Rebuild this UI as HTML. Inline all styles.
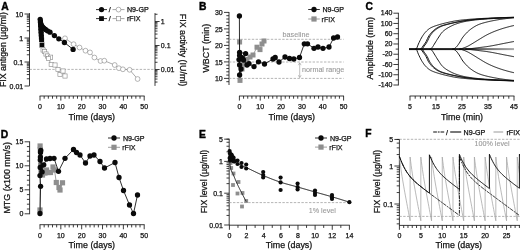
<!DOCTYPE html>
<html><head><meta charset="utf-8"><title>Figure</title>
<style>html,body{margin:0;padding:0;background:#fff;overflow:hidden}svg{display:block;filter:blur(0.4px)}text{font-family:"Liberation Sans",Arial,sans-serif}</style></head>
<body>
<svg width="520" height="250" viewBox="0 0 520 250" font-family="'Liberation Sans', Arial, sans-serif">
<rect width="520" height="250" fill="#fff"/>
<text x="1.3" y="10" font-size="10.3" text-anchor="start" fill="#000" font-weight="bold" stroke="#000" stroke-width="0.4" >A</text>
<line x1="29.5" y1="13.1" x2="29.5" y2="85.9" stroke="#1a1a1a" stroke-width="0.85" />
<line x1="29.5" y1="86" x2="24.5" y2="86" stroke="#1a1a1a" stroke-width="0.85" />
<line x1="29.5" y1="78.78" x2="26.8" y2="78.78" stroke="#1a1a1a" stroke-width="0.85" />
<line x1="29.5" y1="74.55" x2="26.8" y2="74.55" stroke="#1a1a1a" stroke-width="0.85" />
<line x1="29.5" y1="71.55" x2="26.8" y2="71.55" stroke="#1a1a1a" stroke-width="0.85" />
<line x1="29.5" y1="69.22" x2="26.8" y2="69.22" stroke="#1a1a1a" stroke-width="0.85" />
<line x1="29.5" y1="67.32" x2="26.8" y2="67.32" stroke="#1a1a1a" stroke-width="0.85" />
<line x1="29.5" y1="65.72" x2="26.8" y2="65.72" stroke="#1a1a1a" stroke-width="0.85" />
<line x1="29.5" y1="64.33" x2="26.8" y2="64.33" stroke="#1a1a1a" stroke-width="0.85" />
<line x1="29.5" y1="63.1" x2="26.8" y2="63.1" stroke="#1a1a1a" stroke-width="0.85" />
<line x1="29.5" y1="62" x2="24.5" y2="62" stroke="#1a1a1a" stroke-width="0.85" />
<line x1="29.5" y1="54.78" x2="26.8" y2="54.78" stroke="#1a1a1a" stroke-width="0.85" />
<line x1="29.5" y1="50.55" x2="26.8" y2="50.55" stroke="#1a1a1a" stroke-width="0.85" />
<line x1="29.5" y1="47.55" x2="26.8" y2="47.55" stroke="#1a1a1a" stroke-width="0.85" />
<line x1="29.5" y1="45.22" x2="26.8" y2="45.22" stroke="#1a1a1a" stroke-width="0.85" />
<line x1="29.5" y1="43.32" x2="26.8" y2="43.32" stroke="#1a1a1a" stroke-width="0.85" />
<line x1="29.5" y1="41.72" x2="26.8" y2="41.72" stroke="#1a1a1a" stroke-width="0.85" />
<line x1="29.5" y1="40.33" x2="26.8" y2="40.33" stroke="#1a1a1a" stroke-width="0.85" />
<line x1="29.5" y1="39.1" x2="26.8" y2="39.1" stroke="#1a1a1a" stroke-width="0.85" />
<line x1="29.5" y1="38" x2="24.5" y2="38" stroke="#1a1a1a" stroke-width="0.85" />
<line x1="29.5" y1="30.78" x2="26.8" y2="30.78" stroke="#1a1a1a" stroke-width="0.85" />
<line x1="29.5" y1="26.55" x2="26.8" y2="26.55" stroke="#1a1a1a" stroke-width="0.85" />
<line x1="29.5" y1="23.55" x2="26.8" y2="23.55" stroke="#1a1a1a" stroke-width="0.85" />
<line x1="29.5" y1="21.22" x2="26.8" y2="21.22" stroke="#1a1a1a" stroke-width="0.85" />
<line x1="29.5" y1="19.32" x2="26.8" y2="19.32" stroke="#1a1a1a" stroke-width="0.85" />
<line x1="29.5" y1="17.72" x2="26.8" y2="17.72" stroke="#1a1a1a" stroke-width="0.85" />
<line x1="29.5" y1="16.33" x2="26.8" y2="16.33" stroke="#1a1a1a" stroke-width="0.85" />
<line x1="29.5" y1="15.1" x2="26.8" y2="15.1" stroke="#1a1a1a" stroke-width="0.85" />
<line x1="29.5" y1="14" x2="24.5" y2="14" stroke="#1a1a1a" stroke-width="0.85" />
<text x="23.2" y="16.5" font-size="7" text-anchor="end" fill="#111" stroke="#111" stroke-width="0.25" >10</text>
<text x="23.2" y="40.5" font-size="7" text-anchor="end" fill="#111" stroke="#111" stroke-width="0.25" >1</text>
<text x="23.2" y="64.5" font-size="7" text-anchor="end" fill="#111" stroke="#111" stroke-width="0.25" >0.1</text>
<text x="23.2" y="88.5" font-size="7" text-anchor="end" fill="#111" stroke="#111" stroke-width="0.25" >0.01</text>
<text x="6.5" y="49.6" font-size="8.8" text-anchor="middle" fill="#111" stroke="#111" stroke-width="0.25" transform="rotate(-90 6.5 49.6)" >FIX antigen (µg/ml)</text>
<line x1="39.6" y1="96" x2="144.6" y2="96" stroke="#1a1a1a" stroke-width="0.85" />
<line x1="40" y1="96" x2="40" y2="100.6" stroke="#1a1a1a" stroke-width="0.85" />
<text x="40" y="109.4" font-size="7" text-anchor="middle" fill="#111" stroke="#111" stroke-width="0.25" >0</text>
<line x1="44.17" y1="96" x2="44.17" y2="98.7" stroke="#1a1a1a" stroke-width="0.85" />
<line x1="48.34" y1="96" x2="48.34" y2="98.7" stroke="#1a1a1a" stroke-width="0.85" />
<line x1="52.5" y1="96" x2="52.5" y2="98.7" stroke="#1a1a1a" stroke-width="0.85" />
<line x1="56.67" y1="96" x2="56.67" y2="98.7" stroke="#1a1a1a" stroke-width="0.85" />
<line x1="60.84" y1="96" x2="60.84" y2="100.6" stroke="#1a1a1a" stroke-width="0.85" />
<text x="60.84" y="109.4" font-size="7" text-anchor="middle" fill="#111" stroke="#111" stroke-width="0.25" >10</text>
<line x1="65.01" y1="96" x2="65.01" y2="98.7" stroke="#1a1a1a" stroke-width="0.85" />
<line x1="69.18" y1="96" x2="69.18" y2="98.7" stroke="#1a1a1a" stroke-width="0.85" />
<line x1="73.34" y1="96" x2="73.34" y2="98.7" stroke="#1a1a1a" stroke-width="0.85" />
<line x1="77.51" y1="96" x2="77.51" y2="98.7" stroke="#1a1a1a" stroke-width="0.85" />
<line x1="81.68" y1="96" x2="81.68" y2="100.6" stroke="#1a1a1a" stroke-width="0.85" />
<text x="81.68" y="109.4" font-size="7" text-anchor="middle" fill="#111" stroke="#111" stroke-width="0.25" >20</text>
<line x1="85.85" y1="96" x2="85.85" y2="98.7" stroke="#1a1a1a" stroke-width="0.85" />
<line x1="90.02" y1="96" x2="90.02" y2="98.7" stroke="#1a1a1a" stroke-width="0.85" />
<line x1="94.18" y1="96" x2="94.18" y2="98.7" stroke="#1a1a1a" stroke-width="0.85" />
<line x1="98.35" y1="96" x2="98.35" y2="98.7" stroke="#1a1a1a" stroke-width="0.85" />
<line x1="102.52" y1="96" x2="102.52" y2="100.6" stroke="#1a1a1a" stroke-width="0.85" />
<text x="102.52" y="109.4" font-size="7" text-anchor="middle" fill="#111" stroke="#111" stroke-width="0.25" >30</text>
<line x1="106.69" y1="96" x2="106.69" y2="98.7" stroke="#1a1a1a" stroke-width="0.85" />
<line x1="110.86" y1="96" x2="110.86" y2="98.7" stroke="#1a1a1a" stroke-width="0.85" />
<line x1="115.02" y1="96" x2="115.02" y2="98.7" stroke="#1a1a1a" stroke-width="0.85" />
<line x1="119.19" y1="96" x2="119.19" y2="98.7" stroke="#1a1a1a" stroke-width="0.85" />
<line x1="123.36" y1="96" x2="123.36" y2="100.6" stroke="#1a1a1a" stroke-width="0.85" />
<text x="123.36" y="109.4" font-size="7" text-anchor="middle" fill="#111" stroke="#111" stroke-width="0.25" >40</text>
<line x1="127.53" y1="96" x2="127.53" y2="98.7" stroke="#1a1a1a" stroke-width="0.85" />
<line x1="131.7" y1="96" x2="131.7" y2="98.7" stroke="#1a1a1a" stroke-width="0.85" />
<line x1="135.86" y1="96" x2="135.86" y2="98.7" stroke="#1a1a1a" stroke-width="0.85" />
<line x1="140.03" y1="96" x2="140.03" y2="98.7" stroke="#1a1a1a" stroke-width="0.85" />
<line x1="144.2" y1="96" x2="144.2" y2="100.6" stroke="#1a1a1a" stroke-width="0.85" />
<text x="144.2" y="109.4" font-size="7" text-anchor="middle" fill="#111" stroke="#111" stroke-width="0.25" >50</text>
<text x="91.8" y="119.6" font-size="8.9" text-anchor="middle" fill="#111" stroke="#111" stroke-width="0.25" >Time (days)</text>
<line x1="155" y1="13.1" x2="155" y2="85.9" stroke="#1a1a1a" stroke-width="0.85" />
<line x1="155" y1="82.05" x2="157.5" y2="82.05" stroke="#1a1a1a" stroke-width="0.85" />
<line x1="155" y1="79.05" x2="157.5" y2="79.05" stroke="#1a1a1a" stroke-width="0.85" />
<line x1="155" y1="76.72" x2="157.5" y2="76.72" stroke="#1a1a1a" stroke-width="0.85" />
<line x1="155" y1="74.82" x2="157.5" y2="74.82" stroke="#1a1a1a" stroke-width="0.85" />
<line x1="155" y1="73.22" x2="157.5" y2="73.22" stroke="#1a1a1a" stroke-width="0.85" />
<line x1="155" y1="71.83" x2="157.5" y2="71.83" stroke="#1a1a1a" stroke-width="0.85" />
<line x1="155" y1="70.6" x2="157.5" y2="70.6" stroke="#1a1a1a" stroke-width="0.85" />
<line x1="155" y1="69.5" x2="159.6" y2="69.5" stroke="#1a1a1a" stroke-width="0.85" />
<line x1="155" y1="62.28" x2="157.5" y2="62.28" stroke="#1a1a1a" stroke-width="0.85" />
<line x1="155" y1="58.05" x2="157.5" y2="58.05" stroke="#1a1a1a" stroke-width="0.85" />
<line x1="155" y1="55.05" x2="157.5" y2="55.05" stroke="#1a1a1a" stroke-width="0.85" />
<line x1="155" y1="52.72" x2="157.5" y2="52.72" stroke="#1a1a1a" stroke-width="0.85" />
<line x1="155" y1="50.82" x2="157.5" y2="50.82" stroke="#1a1a1a" stroke-width="0.85" />
<line x1="155" y1="49.22" x2="157.5" y2="49.22" stroke="#1a1a1a" stroke-width="0.85" />
<line x1="155" y1="47.83" x2="157.5" y2="47.83" stroke="#1a1a1a" stroke-width="0.85" />
<line x1="155" y1="46.6" x2="157.5" y2="46.6" stroke="#1a1a1a" stroke-width="0.85" />
<line x1="155" y1="45.5" x2="159.6" y2="45.5" stroke="#1a1a1a" stroke-width="0.85" />
<line x1="155" y1="38.28" x2="157.5" y2="38.28" stroke="#1a1a1a" stroke-width="0.85" />
<line x1="155" y1="34.05" x2="157.5" y2="34.05" stroke="#1a1a1a" stroke-width="0.85" />
<line x1="155" y1="31.05" x2="157.5" y2="31.05" stroke="#1a1a1a" stroke-width="0.85" />
<line x1="155" y1="28.72" x2="157.5" y2="28.72" stroke="#1a1a1a" stroke-width="0.85" />
<line x1="155" y1="26.82" x2="157.5" y2="26.82" stroke="#1a1a1a" stroke-width="0.85" />
<line x1="155" y1="25.22" x2="157.5" y2="25.22" stroke="#1a1a1a" stroke-width="0.85" />
<line x1="155" y1="23.83" x2="157.5" y2="23.83" stroke="#1a1a1a" stroke-width="0.85" />
<line x1="155" y1="22.6" x2="157.5" y2="22.6" stroke="#1a1a1a" stroke-width="0.85" />
<line x1="155" y1="21.5" x2="159.6" y2="21.5" stroke="#1a1a1a" stroke-width="0.85" />
<line x1="155" y1="14.28" x2="157.5" y2="14.28" stroke="#1a1a1a" stroke-width="0.85" />
<text x="160.8" y="23.6" font-size="7" text-anchor="start" fill="#111" stroke="#111" stroke-width="0.25" >1</text>
<text x="160.8" y="47.6" font-size="7" text-anchor="start" fill="#111" stroke="#111" stroke-width="0.25" >0.1</text>
<text x="160.8" y="71.6" font-size="7" text-anchor="start" fill="#111" stroke="#111" stroke-width="0.25" >0.01</text>
<text x="180.3" y="50" font-size="8.9" text-anchor="middle" fill="#111" stroke="#111" stroke-width="0.25" transform="rotate(90 180.3 50)" >FIX activity (IU/ml)</text>
<line x1="29.5" y1="69.4" x2="155" y2="69.4" stroke="#9c9c9c" stroke-width="0.75" stroke-dasharray="2.4 1.4"/>
<line x1="96" y1="9.6" x2="107" y2="9.6" stroke="#0a0a0a" stroke-width="0.85" />
<line x1="112.5" y1="9.6" x2="124.5" y2="9.6" stroke="#858585" stroke-width="0.7" />
<circle cx="101.5" cy="9.6" r="2.65" fill="#0a0a0a"/>
<circle cx="118.5" cy="9.6" r="2.4" fill="#fff" stroke="#858585" stroke-width="0.6"/>
<text x="109.8" y="12.2" font-size="7.1" text-anchor="middle" fill="#111" stroke="#111" stroke-width="0.25" >/</text>
<text x="127" y="12.2" font-size="7.1" text-anchor="start" fill="#111" stroke="#111" stroke-width="0.25" >N9-GP</text>
<line x1="96" y1="18.6" x2="107" y2="18.6" stroke="#0a0a0a" stroke-width="0.85" />
<line x1="112.5" y1="18.6" x2="124.5" y2="18.6" stroke="#858585" stroke-width="0.7" />
<rect x="99.1" y="16.2" width="4.8" height="4.8" fill="#0a0a0a"/>
<rect x="116.3" y="16.4" width="4.4" height="4.4" fill="#fff" stroke="#858585" stroke-width="0.6"/>
<text x="109.8" y="21.2" font-size="7.1" text-anchor="middle" fill="#111" stroke="#111" stroke-width="0.25" >/</text>
<text x="127" y="21.2" font-size="7.1" text-anchor="start" fill="#111" stroke="#111" stroke-width="0.25" >rFIX</text>
<polyline points="65,38.3 73.6,44.2 79.5,47.5 85.5,50.7 90,52.4 94.4,57.5 100.5,61 104.3,60.7 114.7,65 118.9,68.2 122.9,69.3 129.6,69.8 137.6,79" fill="none" stroke="#858585" stroke-width="0.7" stroke-linejoin="round" />
<circle cx="65" cy="38.3" r="2.4" fill="#fff" stroke="#858585" stroke-width="0.6"/>
<circle cx="73.6" cy="44.2" r="2.4" fill="#fff" stroke="#858585" stroke-width="0.6"/>
<circle cx="79.5" cy="47.5" r="2.4" fill="#fff" stroke="#858585" stroke-width="0.6"/>
<circle cx="85.5" cy="50.7" r="2.4" fill="#fff" stroke="#858585" stroke-width="0.6"/>
<circle cx="90" cy="52.4" r="2.4" fill="#fff" stroke="#858585" stroke-width="0.6"/>
<circle cx="94.4" cy="57.5" r="2.4" fill="#fff" stroke="#858585" stroke-width="0.6"/>
<circle cx="100.5" cy="61" r="2.4" fill="#fff" stroke="#858585" stroke-width="0.6"/>
<circle cx="104.3" cy="60.7" r="2.4" fill="#fff" stroke="#858585" stroke-width="0.6"/>
<circle cx="114.7" cy="65" r="2.4" fill="#fff" stroke="#858585" stroke-width="0.6"/>
<circle cx="118.9" cy="68.2" r="2.4" fill="#fff" stroke="#858585" stroke-width="0.6"/>
<circle cx="122.9" cy="69.3" r="2.4" fill="#fff" stroke="#858585" stroke-width="0.6"/>
<circle cx="129.6" cy="69.8" r="2.4" fill="#fff" stroke="#858585" stroke-width="0.6"/>
<circle cx="137.6" cy="79" r="2.4" fill="#fff" stroke="#858585" stroke-width="0.6"/>
<polyline points="43.1,50 44.6,51.5 46,54 47.5,56 50.6,57.2 48.5,58.5 51.2,64.4 55,65 58,69.4 60,74.4 63,71 65,76" fill="none" stroke="#858585" stroke-width="0.7" stroke-linejoin="round" />
<rect x="41" y="47.9" width="4.2" height="4.2" fill="#fff" stroke="#858585" stroke-width="0.6"/>
<rect x="42.5" y="49.4" width="4.2" height="4.2" fill="#fff" stroke="#858585" stroke-width="0.6"/>
<rect x="43.9" y="51.9" width="4.2" height="4.2" fill="#fff" stroke="#858585" stroke-width="0.6"/>
<rect x="45.4" y="53.9" width="4.2" height="4.2" fill="#fff" stroke="#858585" stroke-width="0.6"/>
<rect x="48.5" y="55.1" width="4.2" height="4.2" fill="#fff" stroke="#858585" stroke-width="0.6"/>
<rect x="46.4" y="56.4" width="4.2" height="4.2" fill="#fff" stroke="#858585" stroke-width="0.6"/>
<rect x="49.1" y="62.3" width="4.2" height="4.2" fill="#fff" stroke="#858585" stroke-width="0.6"/>
<rect x="52.9" y="62.9" width="4.2" height="4.2" fill="#fff" stroke="#858585" stroke-width="0.6"/>
<rect x="55.9" y="67.3" width="4.2" height="4.2" fill="#fff" stroke="#858585" stroke-width="0.6"/>
<rect x="57.9" y="72.3" width="4.2" height="4.2" fill="#fff" stroke="#858585" stroke-width="0.6"/>
<rect x="60.9" y="68.9" width="4.2" height="4.2" fill="#fff" stroke="#858585" stroke-width="0.6"/>
<rect x="62.9" y="73.9" width="4.2" height="4.2" fill="#fff" stroke="#858585" stroke-width="0.6"/>
<rect x="38" y="20" width="5" height="5" fill="#0a0a0a"/>
<rect x="38.1" y="22.5" width="5" height="5" fill="#0a0a0a"/>
<rect x="38.3" y="25.5" width="5" height="5" fill="#0a0a0a"/>
<rect x="38.5" y="28.5" width="5" height="5" fill="#0a0a0a"/>
<rect x="38.7" y="31.5" width="5" height="5" fill="#0a0a0a"/>
<rect x="38.9" y="34.5" width="5" height="5" fill="#0a0a0a"/>
<rect x="39.1" y="37.5" width="5" height="5" fill="#0a0a0a"/>
<rect x="39.2" y="42.3" width="5.4" height="5.4" fill="#0a0a0a" stroke="#fff" stroke-width="0.5"/>
<polyline points="40.2,19.3 40.4,22 40.8,24 41.5,25.5 42.5,27 43.8,28.2 45.5,29.5 47.5,30.8 50,32.2 54.4,35.6 58.8,38.8 64.4,42.5 73.1,49.4" fill="none" stroke="#0a0a0a" stroke-width="0.85" stroke-linejoin="round" />
<circle cx="40.2" cy="19.3" r="2.65" fill="#0a0a0a"/>
<circle cx="40.4" cy="22" r="2.65" fill="#0a0a0a"/>
<circle cx="40.8" cy="24" r="2.65" fill="#0a0a0a"/>
<circle cx="41.5" cy="25.5" r="2.65" fill="#0a0a0a"/>
<circle cx="42.5" cy="27" r="2.65" fill="#0a0a0a"/>
<circle cx="43.8" cy="28.2" r="2.65" fill="#0a0a0a"/>
<circle cx="45.5" cy="29.5" r="2.65" fill="#0a0a0a"/>
<circle cx="47.5" cy="30.8" r="2.65" fill="#0a0a0a"/>
<circle cx="50" cy="32.2" r="2.65" fill="#0a0a0a"/>
<circle cx="54.4" cy="35.6" r="2.65" fill="#0a0a0a"/>
<circle cx="58.8" cy="38.8" r="2.65" fill="#0a0a0a"/>
<circle cx="64.4" cy="42.5" r="2.65" fill="#0a0a0a"/>
<circle cx="73.1" cy="49.4" r="2.65" fill="#0a0a0a"/>
<text x="199" y="9.5" font-size="10.3" text-anchor="start" fill="#000" font-weight="bold" stroke="#000" stroke-width="0.4" >B</text>
<line x1="229" y1="12" x2="229" y2="85" stroke="#1a1a1a" stroke-width="0.85" />
<line x1="229" y1="81.7" x2="226.3" y2="81.7" stroke="#1a1a1a" stroke-width="0.85" />
<line x1="229" y1="78.4" x2="224" y2="78.4" stroke="#1a1a1a" stroke-width="0.85" />
<text x="222.7" y="81.4" font-size="7" text-anchor="end" fill="#111" stroke="#111" stroke-width="0.25" >10</text>
<line x1="229" y1="75.1" x2="226.3" y2="75.1" stroke="#1a1a1a" stroke-width="0.85" />
<line x1="229" y1="71.8" x2="226.3" y2="71.8" stroke="#1a1a1a" stroke-width="0.85" />
<line x1="229" y1="68.5" x2="226.3" y2="68.5" stroke="#1a1a1a" stroke-width="0.85" />
<line x1="229" y1="65.2" x2="226.3" y2="65.2" stroke="#1a1a1a" stroke-width="0.85" />
<line x1="229" y1="61.9" x2="224" y2="61.9" stroke="#1a1a1a" stroke-width="0.85" />
<text x="222.7" y="64.9" font-size="7" text-anchor="end" fill="#111" stroke="#111" stroke-width="0.25" >15</text>
<line x1="229" y1="58.6" x2="226.3" y2="58.6" stroke="#1a1a1a" stroke-width="0.85" />
<line x1="229" y1="55.3" x2="226.3" y2="55.3" stroke="#1a1a1a" stroke-width="0.85" />
<line x1="229" y1="52" x2="226.3" y2="52" stroke="#1a1a1a" stroke-width="0.85" />
<line x1="229" y1="48.7" x2="226.3" y2="48.7" stroke="#1a1a1a" stroke-width="0.85" />
<line x1="229" y1="45.4" x2="224" y2="45.4" stroke="#1a1a1a" stroke-width="0.85" />
<text x="222.7" y="48.4" font-size="7" text-anchor="end" fill="#111" stroke="#111" stroke-width="0.25" >20</text>
<line x1="229" y1="42.1" x2="226.3" y2="42.1" stroke="#1a1a1a" stroke-width="0.85" />
<line x1="229" y1="38.8" x2="226.3" y2="38.8" stroke="#1a1a1a" stroke-width="0.85" />
<line x1="229" y1="35.5" x2="226.3" y2="35.5" stroke="#1a1a1a" stroke-width="0.85" />
<line x1="229" y1="32.2" x2="226.3" y2="32.2" stroke="#1a1a1a" stroke-width="0.85" />
<line x1="229" y1="28.9" x2="224" y2="28.9" stroke="#1a1a1a" stroke-width="0.85" />
<text x="222.7" y="31.9" font-size="7" text-anchor="end" fill="#111" stroke="#111" stroke-width="0.25" >25</text>
<line x1="229" y1="25.6" x2="226.3" y2="25.6" stroke="#1a1a1a" stroke-width="0.85" />
<line x1="229" y1="22.3" x2="226.3" y2="22.3" stroke="#1a1a1a" stroke-width="0.85" />
<line x1="229" y1="19" x2="226.3" y2="19" stroke="#1a1a1a" stroke-width="0.85" />
<line x1="229" y1="15.7" x2="226.3" y2="15.7" stroke="#1a1a1a" stroke-width="0.85" />
<line x1="229" y1="12.4" x2="224" y2="12.4" stroke="#1a1a1a" stroke-width="0.85" />
<text x="222.7" y="15.4" font-size="7" text-anchor="end" fill="#111" stroke="#111" stroke-width="0.25" >30</text>
<text x="209.2" y="48.2" font-size="8.9" text-anchor="middle" fill="#111" stroke="#111" stroke-width="0.25" transform="rotate(-90 209.2 48.2)" >WBCT (min)</text>
<line x1="239" y1="96" x2="344" y2="96" stroke="#1a1a1a" stroke-width="0.85" />
<line x1="239.4" y1="96" x2="239.4" y2="100.6" stroke="#1a1a1a" stroke-width="0.85" />
<text x="239.4" y="109.4" font-size="7" text-anchor="middle" fill="#111" stroke="#111" stroke-width="0.25" >0</text>
<line x1="243.57" y1="96" x2="243.57" y2="98.7" stroke="#1a1a1a" stroke-width="0.85" />
<line x1="247.74" y1="96" x2="247.74" y2="98.7" stroke="#1a1a1a" stroke-width="0.85" />
<line x1="251.9" y1="96" x2="251.9" y2="98.7" stroke="#1a1a1a" stroke-width="0.85" />
<line x1="256.07" y1="96" x2="256.07" y2="98.7" stroke="#1a1a1a" stroke-width="0.85" />
<line x1="260.24" y1="96" x2="260.24" y2="100.6" stroke="#1a1a1a" stroke-width="0.85" />
<text x="260.24" y="109.4" font-size="7" text-anchor="middle" fill="#111" stroke="#111" stroke-width="0.25" >10</text>
<line x1="264.41" y1="96" x2="264.41" y2="98.7" stroke="#1a1a1a" stroke-width="0.85" />
<line x1="268.58" y1="96" x2="268.58" y2="98.7" stroke="#1a1a1a" stroke-width="0.85" />
<line x1="272.74" y1="96" x2="272.74" y2="98.7" stroke="#1a1a1a" stroke-width="0.85" />
<line x1="276.91" y1="96" x2="276.91" y2="98.7" stroke="#1a1a1a" stroke-width="0.85" />
<line x1="281.08" y1="96" x2="281.08" y2="100.6" stroke="#1a1a1a" stroke-width="0.85" />
<text x="281.08" y="109.4" font-size="7" text-anchor="middle" fill="#111" stroke="#111" stroke-width="0.25" >20</text>
<line x1="285.25" y1="96" x2="285.25" y2="98.7" stroke="#1a1a1a" stroke-width="0.85" />
<line x1="289.42" y1="96" x2="289.42" y2="98.7" stroke="#1a1a1a" stroke-width="0.85" />
<line x1="293.58" y1="96" x2="293.58" y2="98.7" stroke="#1a1a1a" stroke-width="0.85" />
<line x1="297.75" y1="96" x2="297.75" y2="98.7" stroke="#1a1a1a" stroke-width="0.85" />
<line x1="301.92" y1="96" x2="301.92" y2="100.6" stroke="#1a1a1a" stroke-width="0.85" />
<text x="301.92" y="109.4" font-size="7" text-anchor="middle" fill="#111" stroke="#111" stroke-width="0.25" >30</text>
<line x1="306.09" y1="96" x2="306.09" y2="98.7" stroke="#1a1a1a" stroke-width="0.85" />
<line x1="310.26" y1="96" x2="310.26" y2="98.7" stroke="#1a1a1a" stroke-width="0.85" />
<line x1="314.42" y1="96" x2="314.42" y2="98.7" stroke="#1a1a1a" stroke-width="0.85" />
<line x1="318.59" y1="96" x2="318.59" y2="98.7" stroke="#1a1a1a" stroke-width="0.85" />
<line x1="322.76" y1="96" x2="322.76" y2="100.6" stroke="#1a1a1a" stroke-width="0.85" />
<text x="322.76" y="109.4" font-size="7" text-anchor="middle" fill="#111" stroke="#111" stroke-width="0.25" >40</text>
<line x1="326.93" y1="96" x2="326.93" y2="98.7" stroke="#1a1a1a" stroke-width="0.85" />
<line x1="331.1" y1="96" x2="331.1" y2="98.7" stroke="#1a1a1a" stroke-width="0.85" />
<line x1="335.26" y1="96" x2="335.26" y2="98.7" stroke="#1a1a1a" stroke-width="0.85" />
<line x1="339.43" y1="96" x2="339.43" y2="98.7" stroke="#1a1a1a" stroke-width="0.85" />
<line x1="343.6" y1="96" x2="343.6" y2="100.6" stroke="#1a1a1a" stroke-width="0.85" />
<text x="343.6" y="109.4" font-size="7" text-anchor="middle" fill="#111" stroke="#111" stroke-width="0.25" >50</text>
<text x="291.8" y="119.6" font-size="8.9" text-anchor="middle" fill="#111" stroke="#111" stroke-width="0.25" >Time (days)</text>
<line x1="229" y1="39.3" x2="343.6" y2="39.3" stroke="#9c9c9c" stroke-width="0.75" stroke-dasharray="2.4 1.4"/>
<line x1="229" y1="62" x2="343.6" y2="62" stroke="#9c9c9c" stroke-width="0.75" stroke-dasharray="2.4 1.4"/>
<line x1="229" y1="78.4" x2="343.6" y2="78.4" stroke="#9c9c9c" stroke-width="0.75" stroke-dasharray="2.4 1.4"/>
<text x="296" y="37" font-size="7.2" text-anchor="middle" fill="#999" stroke="#999" stroke-width="0.1" >baseline</text>
<text x="302" y="72.2" font-size="7.2" text-anchor="start" fill="#999" stroke="#999" stroke-width="0.1" >normal range</text>
<line x1="299.7" y1="63" x2="299.7" y2="77.4" stroke="#999" stroke-width="0.6" />
<path d="M298.3 65.2 L299.7 62.8 L301.1 65.2 M298.3 75.2 L299.7 77.6 L301.1 75.2" fill="none" stroke="#999" stroke-width="0.6"/>
<line x1="308.2" y1="9.5" x2="319.8" y2="9.5" stroke="#0a0a0a" stroke-width="0.85" />
<circle cx="314" cy="9.5" r="2.65" fill="#0a0a0a"/>
<text x="322.4" y="12.1" font-size="7.1" text-anchor="start" fill="#111" stroke="#111" stroke-width="0.25" >N9-GP</text>
<line x1="308.2" y1="19" x2="319.8" y2="19" stroke="#8e8e8e" stroke-width="0.85" />
<rect x="311.4" y="16.4" width="5.2" height="5.2" fill="#8e8e8e"/>
<text x="321.6" y="21.6" font-size="7.1" text-anchor="start" fill="#222" stroke="#222" stroke-width="0.25" >rFIX</text>
<polyline points="239.6,42 239.8,80" fill="none" stroke="#8e8e8e" stroke-width="0.85" stroke-linejoin="round" />
<polyline points="240,80.4 242,69 244,64 247,59.5 250,57 253,55 257,47.2 260,49.6 262,44 264,41" fill="none" stroke="#8e8e8e" stroke-width="0.85" stroke-linejoin="round" />
<rect x="237.1" y="39.5" width="5" height="5" fill="#8e8e8e"/>
<rect x="237.5" y="77.9" width="5" height="5" fill="#8e8e8e"/>
<rect x="239.5" y="66.5" width="5" height="5" fill="#8e8e8e"/>
<rect x="241.5" y="61.5" width="5" height="5" fill="#8e8e8e"/>
<rect x="244.5" y="57" width="5" height="5" fill="#8e8e8e"/>
<rect x="247.5" y="54.5" width="5" height="5" fill="#8e8e8e"/>
<rect x="250.5" y="52.5" width="5" height="5" fill="#8e8e8e"/>
<rect x="254.5" y="44.7" width="5" height="5" fill="#8e8e8e"/>
<rect x="257.5" y="47.1" width="5" height="5" fill="#8e8e8e"/>
<rect x="259.5" y="41.5" width="5" height="5" fill="#8e8e8e"/>
<rect x="261.5" y="38.5" width="5" height="5" fill="#8e8e8e"/>
<polyline points="239.4,16 239.6,75" fill="none" stroke="#0a0a0a" stroke-width="0.85" stroke-linejoin="round" />
<polyline points="239.6,75 241,69 239.6,65 239,59.6 242,57.6 239.6,55.6 239.6,52.4 245.6,53.6 243.5,60 247,65 249,63.6 254,66.6 258.5,61.8 264.5,64 273,59 275.2,57.5 279,62 285,57 289.5,58.5 293.8,59 299.5,57.5 304.3,43.8 307.5,43.8 314,48.3 318,47 323,48.3 329,47 333.6,38 337.5,37" fill="none" stroke="#0a0a0a" stroke-width="0.85" stroke-linejoin="round" />
<circle cx="239.4" cy="16" r="2.65" fill="#0a0a0a"/>
<circle cx="239.6" cy="75" r="2.65" fill="#0a0a0a"/>
<circle cx="241" cy="69" r="2.65" fill="#0a0a0a"/>
<circle cx="239.6" cy="65" r="2.65" fill="#0a0a0a"/>
<circle cx="239" cy="59.6" r="2.65" fill="#0a0a0a"/>
<circle cx="242" cy="57.6" r="2.65" fill="#0a0a0a"/>
<circle cx="239.6" cy="55.6" r="2.65" fill="#0a0a0a"/>
<circle cx="239.6" cy="52.4" r="2.65" fill="#0a0a0a"/>
<circle cx="245.6" cy="53.6" r="2.65" fill="#0a0a0a"/>
<circle cx="243.5" cy="60" r="2.65" fill="#0a0a0a"/>
<circle cx="247" cy="65" r="2.65" fill="#0a0a0a"/>
<circle cx="249" cy="63.6" r="2.65" fill="#0a0a0a"/>
<circle cx="254" cy="66.6" r="2.65" fill="#0a0a0a"/>
<circle cx="258.5" cy="61.8" r="2.65" fill="#0a0a0a"/>
<circle cx="264.5" cy="64" r="2.65" fill="#0a0a0a"/>
<circle cx="273" cy="59" r="2.65" fill="#0a0a0a"/>
<circle cx="275.2" cy="57.5" r="2.65" fill="#0a0a0a"/>
<circle cx="279" cy="62" r="2.65" fill="#0a0a0a"/>
<circle cx="285" cy="57" r="2.65" fill="#0a0a0a"/>
<circle cx="289.5" cy="58.5" r="2.65" fill="#0a0a0a"/>
<circle cx="293.8" cy="59" r="2.65" fill="#0a0a0a"/>
<circle cx="299.5" cy="57.5" r="2.65" fill="#0a0a0a"/>
<circle cx="304.3" cy="43.8" r="2.65" fill="#0a0a0a"/>
<circle cx="307.5" cy="43.8" r="2.65" fill="#0a0a0a"/>
<circle cx="314" cy="48.3" r="2.65" fill="#0a0a0a"/>
<circle cx="318" cy="47" r="2.65" fill="#0a0a0a"/>
<circle cx="323" cy="48.3" r="2.65" fill="#0a0a0a"/>
<circle cx="329" cy="47" r="2.65" fill="#0a0a0a"/>
<circle cx="333.6" cy="38" r="2.65" fill="#0a0a0a"/>
<circle cx="337.5" cy="37" r="2.65" fill="#0a0a0a"/>
<text x="365.5" y="9.5" font-size="10.3" text-anchor="start" fill="#000" font-weight="bold" stroke="#000" stroke-width="0.4" >C</text>
<line x1="398.4" y1="12.79" x2="398.4" y2="85.41" stroke="#1a1a1a" stroke-width="0.85" />
<line x1="398.4" y1="85.01" x2="393.4" y2="85.01" stroke="#1a1a1a" stroke-width="0.85" />
<text x="392.5" y="87.21" font-size="7" text-anchor="end" fill="#111" stroke="#111" stroke-width="0.25" >-140</text>
<line x1="398.4" y1="79.88" x2="395.7" y2="79.88" stroke="#1a1a1a" stroke-width="0.85" />
<line x1="398.4" y1="74.75" x2="393.4" y2="74.75" stroke="#1a1a1a" stroke-width="0.85" />
<text x="392.5" y="76.95" font-size="7" text-anchor="end" fill="#111" stroke="#111" stroke-width="0.25" >-100</text>
<line x1="398.4" y1="69.62" x2="395.7" y2="69.62" stroke="#1a1a1a" stroke-width="0.85" />
<line x1="398.4" y1="64.49" x2="393.4" y2="64.49" stroke="#1a1a1a" stroke-width="0.85" />
<text x="392.5" y="66.69" font-size="7" text-anchor="end" fill="#111" stroke="#111" stroke-width="0.25" >-60</text>
<line x1="398.4" y1="59.36" x2="395.7" y2="59.36" stroke="#1a1a1a" stroke-width="0.85" />
<line x1="398.4" y1="54.23" x2="393.4" y2="54.23" stroke="#1a1a1a" stroke-width="0.85" />
<text x="392.5" y="56.43" font-size="7" text-anchor="end" fill="#111" stroke="#111" stroke-width="0.25" >-20</text>
<line x1="398.4" y1="49.1" x2="395.7" y2="49.1" stroke="#1a1a1a" stroke-width="0.85" />
<line x1="398.4" y1="43.97" x2="393.4" y2="43.97" stroke="#1a1a1a" stroke-width="0.85" />
<text x="392.5" y="46.17" font-size="7" text-anchor="end" fill="#111" stroke="#111" stroke-width="0.25" >20</text>
<line x1="398.4" y1="38.84" x2="395.7" y2="38.84" stroke="#1a1a1a" stroke-width="0.85" />
<line x1="398.4" y1="33.71" x2="393.4" y2="33.71" stroke="#1a1a1a" stroke-width="0.85" />
<text x="392.5" y="35.91" font-size="7" text-anchor="end" fill="#111" stroke="#111" stroke-width="0.25" >60</text>
<line x1="398.4" y1="28.58" x2="395.7" y2="28.58" stroke="#1a1a1a" stroke-width="0.85" />
<line x1="398.4" y1="23.45" x2="393.4" y2="23.45" stroke="#1a1a1a" stroke-width="0.85" />
<text x="392.5" y="25.65" font-size="7" text-anchor="end" fill="#111" stroke="#111" stroke-width="0.25" >100</text>
<line x1="398.4" y1="18.32" x2="395.7" y2="18.32" stroke="#1a1a1a" stroke-width="0.85" />
<line x1="398.4" y1="13.19" x2="393.4" y2="13.19" stroke="#1a1a1a" stroke-width="0.85" />
<text x="392.5" y="15.39" font-size="7" text-anchor="end" fill="#111" stroke="#111" stroke-width="0.25" >140</text>
<text x="373.4" y="48.3" font-size="8.9" text-anchor="middle" fill="#111" stroke="#111" stroke-width="0.25" transform="rotate(-90 373.4 48.3)" >Amplitude (mm)</text>
<line x1="409.6" y1="96" x2="514.4" y2="96" stroke="#1a1a1a" stroke-width="0.85" />
<line x1="410" y1="96" x2="410" y2="100.6" stroke="#1a1a1a" stroke-width="0.85" />
<text x="410" y="109.4" font-size="7" text-anchor="middle" fill="#111" stroke="#111" stroke-width="0.25" >5</text>
<line x1="415.2" y1="96" x2="415.2" y2="98.7" stroke="#1a1a1a" stroke-width="0.85" />
<line x1="420.4" y1="96" x2="420.4" y2="98.7" stroke="#1a1a1a" stroke-width="0.85" />
<line x1="425.6" y1="96" x2="425.6" y2="98.7" stroke="#1a1a1a" stroke-width="0.85" />
<line x1="430.8" y1="96" x2="430.8" y2="98.7" stroke="#1a1a1a" stroke-width="0.85" />
<line x1="436" y1="96" x2="436" y2="100.6" stroke="#1a1a1a" stroke-width="0.85" />
<text x="436" y="109.4" font-size="7" text-anchor="middle" fill="#111" stroke="#111" stroke-width="0.25" >15</text>
<line x1="441.2" y1="96" x2="441.2" y2="98.7" stroke="#1a1a1a" stroke-width="0.85" />
<line x1="446.4" y1="96" x2="446.4" y2="98.7" stroke="#1a1a1a" stroke-width="0.85" />
<line x1="451.6" y1="96" x2="451.6" y2="98.7" stroke="#1a1a1a" stroke-width="0.85" />
<line x1="456.8" y1="96" x2="456.8" y2="98.7" stroke="#1a1a1a" stroke-width="0.85" />
<line x1="462" y1="96" x2="462" y2="100.6" stroke="#1a1a1a" stroke-width="0.85" />
<text x="462" y="109.4" font-size="7" text-anchor="middle" fill="#111" stroke="#111" stroke-width="0.25" >25</text>
<line x1="467.2" y1="96" x2="467.2" y2="98.7" stroke="#1a1a1a" stroke-width="0.85" />
<line x1="472.4" y1="96" x2="472.4" y2="98.7" stroke="#1a1a1a" stroke-width="0.85" />
<line x1="477.6" y1="96" x2="477.6" y2="98.7" stroke="#1a1a1a" stroke-width="0.85" />
<line x1="482.8" y1="96" x2="482.8" y2="98.7" stroke="#1a1a1a" stroke-width="0.85" />
<line x1="488" y1="96" x2="488" y2="100.6" stroke="#1a1a1a" stroke-width="0.85" />
<text x="488" y="109.4" font-size="7" text-anchor="middle" fill="#111" stroke="#111" stroke-width="0.25" >35</text>
<line x1="493.2" y1="96" x2="493.2" y2="98.7" stroke="#1a1a1a" stroke-width="0.85" />
<line x1="498.4" y1="96" x2="498.4" y2="98.7" stroke="#1a1a1a" stroke-width="0.85" />
<line x1="503.6" y1="96" x2="503.6" y2="98.7" stroke="#1a1a1a" stroke-width="0.85" />
<line x1="508.8" y1="96" x2="508.8" y2="98.7" stroke="#1a1a1a" stroke-width="0.85" />
<line x1="514" y1="96" x2="514" y2="100.6" stroke="#1a1a1a" stroke-width="0.85" />
<text x="514" y="109.4" font-size="7" text-anchor="middle" fill="#111" stroke="#111" stroke-width="0.25" >45</text>
<text x="462" y="119.6" font-size="8.9" text-anchor="middle" fill="#111" stroke="#111" stroke-width="0.25" >Time (min)</text>
<defs><linearGradient id="gb" x1="0" x2="1" y1="0" y2="0"><stop offset="0" stop-color="#111"/><stop offset="0.5" stop-color="#222"/><stop offset="0.7" stop-color="#666"/><stop offset="1" stop-color="#aaa"/></linearGradient></defs>
<rect x="409" y="48.1" width="105" height="2.0" fill="url(#gb)"/>
<polyline points="415.4,49.1 416.15,49.06 416.9,47.92 417.65,45.91 418.4,44 419.15,42.43 419.9,40.85 420.65,39.33 421.4,37.94 422.15,36.7 422.9,35.53 423.65,34.43 424.4,33.41 425.15,32.5 425.9,31.69 426.65,30.93 427.4,30.23 428.15,29.58 428.9,28.98 429.65,28.45 430.4,28 431.15,27.6 431.9,27.24 432.65,26.91 433.4,26.6 434.15,26.31 434.9,26.04 435.65,25.78 436.4,25.53 437.15,25.29 437.9,25.05 438.65,24.82 439.4,24.59 440.15,24.37 440.9,24.16 441.65,23.96 442.4,23.76 443.15,23.56 443.9,23.37 444.65,23.19 445.4,23.01 446.15,22.83 446.9,22.65 447.65,22.48 448.4,22.31 449.15,22.14 449.9,21.97 450.65,21.81 451.4,21.65 452.15,21.5 452.9,21.35 453.65,21.2 454.4,21.07 455.15,20.94 455.9,20.82 456.65,20.7 457.4,20.59 458.15,20.49 458.9,20.38 459.65,20.29 460.4,20.19 461.15,20.1 461.9,20.02 462.65,19.94 463.4,19.86 464.15,19.79 464.9,19.71 465.65,19.65 466.4,19.58 467.15,19.51 467.9,19.45 468.65,19.38 469.4,19.32 470.15,19.26 470.9,19.2 471.65,19.15 472.4,19.09 473.15,19.04 473.9,18.98 474.65,18.93 475.4,18.88 476.15,18.83 476.9,18.79 477.65,18.74 478.4,18.69 479.15,18.65 479.9,18.61 480.65,18.56 481.4,18.52 482.15,18.48 482.9,18.44 483.65,18.4 484.4,18.37 485.15,18.33 485.9,18.29 486.65,18.26 487.4,18.22 488.15,18.19 488.9,18.16 489.65,18.12 490.4,18.09 491.15,18.06 491.9,18.03 492.65,17.99 493.4,17.96 494.15,17.93 494.9,17.9 495.65,17.87 496.4,17.84 497.15,17.81 497.9,17.78 498.65,17.75 499.4,17.72 500.15,17.69 500.9,17.66 501.65,17.64 502.4,17.61 503.15,17.58 503.9,17.55 504.65,17.52 505.4,17.49 506.15,17.47 506.9,17.44 507.65,17.41 508.4,17.39 509.15,17.36 509.9,17.34 510.65,17.31 511.4,17.28 512.15,17.26 512.9,17.24 513.65,17.21 514,17.2" fill="none" stroke="#0c0c0c" stroke-width="0.95" stroke-linejoin="round" />
<polyline points="415.4,49.1 416.15,49.14 416.9,50.28 417.65,52.29 418.4,54.2 419.15,55.77 419.9,57.35 420.65,58.87 421.4,60.26 422.15,61.5 422.9,62.67 423.65,63.77 424.4,64.79 425.15,65.7 425.9,66.51 426.65,67.27 427.4,67.97 428.15,68.62 428.9,69.22 429.65,69.75 430.4,70.2 431.15,70.6 431.9,70.96 432.65,71.29 433.4,71.6 434.15,71.89 434.9,72.16 435.65,72.42 436.4,72.67 437.15,72.91 437.9,73.15 438.65,73.38 439.4,73.61 440.15,73.83 440.9,74.04 441.65,74.24 442.4,74.44 443.15,74.64 443.9,74.83 444.65,75.01 445.4,75.19 446.15,75.37 446.9,75.55 447.65,75.72 448.4,75.89 449.15,76.06 449.9,76.23 450.65,76.39 451.4,76.55 452.15,76.7 452.9,76.85 453.65,77 454.4,77.13 455.15,77.26 455.9,77.38 456.65,77.5 457.4,77.61 458.15,77.71 458.9,77.82 459.65,77.91 460.4,78.01 461.15,78.1 461.9,78.18 462.65,78.26 463.4,78.34 464.15,78.41 464.9,78.49 465.65,78.55 466.4,78.62 467.15,78.69 467.9,78.75 468.65,78.82 469.4,78.88 470.15,78.94 470.9,79 471.65,79.05 472.4,79.11 473.15,79.16 473.9,79.22 474.65,79.27 475.4,79.32 476.15,79.37 476.9,79.41 477.65,79.46 478.4,79.51 479.15,79.55 479.9,79.59 480.65,79.64 481.4,79.68 482.15,79.72 482.9,79.76 483.65,79.8 484.4,79.83 485.15,79.87 485.9,79.91 486.65,79.94 487.4,79.98 488.15,80.01 488.9,80.04 489.65,80.08 490.4,80.11 491.15,80.14 491.9,80.17 492.65,80.21 493.4,80.24 494.15,80.27 494.9,80.3 495.65,80.33 496.4,80.36 497.15,80.39 497.9,80.42 498.65,80.45 499.4,80.48 500.15,80.51 500.9,80.54 501.65,80.56 502.4,80.59 503.15,80.62 503.9,80.65 504.65,80.68 505.4,80.71 506.15,80.73 506.9,80.76 507.65,80.79 508.4,80.81 509.15,80.84 509.9,80.86 510.65,80.89 511.4,80.92 512.15,80.94 512.9,80.96 513.65,80.99 514,81" fill="none" stroke="#0c0c0c" stroke-width="0.95" stroke-linejoin="round" />
<polyline points="420,49.1 420.75,49.08 421.5,48.4 422.25,47.19 423,46 423.75,45.02 424.5,44.02 425.25,42.95 426,41.69 426.75,40.14 427.5,38.49 428.25,36.94 429,35.7 429.75,34.64 430.5,33.65 431.25,32.74 432,31.91 432.75,31.15 433.5,30.48 434.25,29.88 435,29.3 435.75,28.76 436.5,28.26 437.25,27.79 438,27.36 438.75,26.97 439.5,26.61 440.25,26.3 441,26.01 441.75,25.74 442.5,25.5 443.25,25.26 444,25.05 444.75,24.84 445.5,24.64 446.25,24.45 447,24.26 447.75,24.06 448.5,23.87 449.25,23.69 450,23.5 450.75,23.33 451.5,23.15 452.25,22.99 453,22.82 453.75,22.66 454.5,22.5 455.25,22.35 456,22.2 456.75,22.05 457.5,21.9 458.25,21.76 459,21.61 459.75,21.47 460.5,21.33 461.25,21.19 462,21.06 462.75,20.94 463.5,20.82 464.25,20.71 465,20.6 465.75,20.5 466.5,20.4 467.25,20.3 468,20.21 468.75,20.11 469.5,20.02 470.25,19.94 471,19.85 471.75,19.76 472.5,19.68 473.25,19.6 474,19.53 474.75,19.45 475.5,19.38 476.25,19.31 477,19.24 477.75,19.18 478.5,19.12 479.25,19.06 480,19 480.75,18.95 481.5,18.89 482.25,18.84 483,18.79 483.75,18.74 484.5,18.69 485.25,18.65 486,18.6 486.75,18.55 487.5,18.51 488.25,18.47 489,18.43 489.75,18.39 490.5,18.35 491.25,18.31 492,18.27 492.75,18.23 493.5,18.19 494.25,18.16 495,18.12 495.75,18.09 496.5,18.05 497.25,18.02 498,17.99 498.75,17.95 499.5,17.92 500.25,17.89 501,17.86 501.75,17.83 502.5,17.8 503.25,17.77 504,17.74 504.75,17.71 505.5,17.68 506.25,17.65 507,17.62 507.75,17.6 508.5,17.57 509.25,17.55 510,17.52 510.75,17.5 511.5,17.47 512.25,17.45 513,17.43 513.75,17.41 514,17.4" fill="none" stroke="#0c0c0c" stroke-width="0.95" stroke-linejoin="round" />
<polyline points="420,49.1 420.75,49.12 421.5,49.8 422.25,51.01 423,52.2 423.75,53.18 424.5,54.18 425.25,55.25 426,56.51 426.75,58.06 427.5,59.71 428.25,61.26 429,62.5 429.75,63.56 430.5,64.55 431.25,65.46 432,66.29 432.75,67.05 433.5,67.72 434.25,68.32 435,68.9 435.75,69.44 436.5,69.94 437.25,70.41 438,70.84 438.75,71.23 439.5,71.59 440.25,71.9 441,72.19 441.75,72.46 442.5,72.7 443.25,72.94 444,73.15 444.75,73.36 445.5,73.56 446.25,73.75 447,73.94 447.75,74.14 448.5,74.33 449.25,74.51 450,74.7 450.75,74.87 451.5,75.05 452.25,75.21 453,75.38 453.75,75.54 454.5,75.7 455.25,75.85 456,76 456.75,76.15 457.5,76.3 458.25,76.44 459,76.59 459.75,76.73 460.5,76.87 461.25,77.01 462,77.14 462.75,77.26 463.5,77.38 464.25,77.49 465,77.6 465.75,77.7 466.5,77.8 467.25,77.9 468,77.99 468.75,78.09 469.5,78.18 470.25,78.26 471,78.35 471.75,78.44 472.5,78.52 473.25,78.6 474,78.67 474.75,78.75 475.5,78.82 476.25,78.89 477,78.96 477.75,79.02 478.5,79.08 479.25,79.14 480,79.2 480.75,79.25 481.5,79.31 482.25,79.36 483,79.41 483.75,79.46 484.5,79.51 485.25,79.55 486,79.6 486.75,79.65 487.5,79.69 488.25,79.73 489,79.77 489.75,79.81 490.5,79.85 491.25,79.89 492,79.93 492.75,79.97 493.5,80.01 494.25,80.04 495,80.08 495.75,80.11 496.5,80.15 497.25,80.18 498,80.21 498.75,80.25 499.5,80.28 500.25,80.31 501,80.34 501.75,80.37 502.5,80.4 503.25,80.43 504,80.46 504.75,80.49 505.5,80.52 506.25,80.55 507,80.58 507.75,80.6 508.5,80.63 509.25,80.65 510,80.68 510.75,80.7 511.5,80.73 512.25,80.75 513,80.77 513.75,80.79 514,80.8" fill="none" stroke="#0c0c0c" stroke-width="0.95" stroke-linejoin="round" />
<polyline points="421.2,49.1 421.95,49.08 422.7,48.4 423.45,47.19 424.2,46 424.95,45.02 425.7,44.02 426.45,42.95 427.2,41.69 427.95,40.14 428.7,38.49 429.45,36.94 430.2,35.7 430.95,34.64 431.7,33.65 432.45,32.74 433.2,31.91 433.95,31.15 434.7,30.48 435.45,29.88 436.2,29.3 436.95,28.77 437.7,28.26 438.45,27.8 439.2,27.37 439.95,26.97 440.7,26.62 441.45,26.3 442.2,26 442.95,25.73 443.7,25.48 444.45,25.24 445.2,25.02 445.95,24.81 446.7,24.6 447.45,24.4 448.2,24.21 448.95,24.01 449.7,23.82 450.45,23.63 451.2,23.45 451.95,23.28 452.7,23.11 453.45,22.94 454.2,22.78 454.95,22.62 455.7,22.46 456.45,22.31 457.2,22.16 457.95,22.01 458.7,21.86 459.45,21.72 460.2,21.57 460.95,21.43 461.7,21.29 462.45,21.16 463.2,21.03 463.95,20.91 464.7,20.79 465.45,20.68 466.2,20.57 466.95,20.47 467.7,20.37 468.45,20.28 469.2,20.18 469.95,20.09 470.7,20 471.45,19.91 472.2,19.83 472.95,19.74 473.7,19.66 474.45,19.58 475.2,19.51 475.95,19.43 476.7,19.36 477.45,19.29 478.2,19.23 478.95,19.16 479.7,19.1 480.45,19.04 481.2,18.99 481.95,18.93 482.7,18.88 483.45,18.83 484.2,18.77 484.95,18.72 485.7,18.68 486.45,18.63 487.2,18.58 487.95,18.54 488.7,18.49 489.45,18.45 490.2,18.41 490.95,18.37 491.7,18.32 492.45,18.29 493.2,18.25 493.95,18.21 494.7,18.17 495.45,18.14 496.2,18.1 496.95,18.07 497.7,18.04 498.45,18 499.2,17.97 499.95,17.94 500.7,17.91 501.45,17.88 502.2,17.85 502.95,17.83 503.7,17.8 504.45,17.77 505.2,17.75 505.95,17.72 506.7,17.7 507.45,17.67 508.2,17.65 508.95,17.63 509.7,17.61 510.45,17.59 511.2,17.57 511.95,17.55 512.7,17.53 513.45,17.51 514,17.5" fill="none" stroke="#0c0c0c" stroke-width="0.95" stroke-linejoin="round" />
<polyline points="421.2,49.1 421.95,49.12 422.7,49.8 423.45,51.01 424.2,52.2 424.95,53.18 425.7,54.18 426.45,55.25 427.2,56.51 427.95,58.06 428.7,59.71 429.45,61.26 430.2,62.5 430.95,63.56 431.7,64.55 432.45,65.46 433.2,66.29 433.95,67.05 434.7,67.72 435.45,68.32 436.2,68.9 436.95,69.43 437.7,69.94 438.45,70.4 439.2,70.83 439.95,71.23 440.7,71.58 441.45,71.9 442.2,72.2 442.95,72.47 443.7,72.72 444.45,72.96 445.2,73.18 445.95,73.39 446.7,73.6 447.45,73.8 448.2,73.99 448.95,74.19 449.7,74.38 450.45,74.57 451.2,74.75 451.95,74.92 452.7,75.09 453.45,75.26 454.2,75.42 454.95,75.58 455.7,75.74 456.45,75.89 457.2,76.04 457.95,76.19 458.7,76.34 459.45,76.48 460.2,76.63 460.95,76.77 461.7,76.91 462.45,77.04 463.2,77.17 463.95,77.29 464.7,77.41 465.45,77.52 466.2,77.63 466.95,77.73 467.7,77.83 468.45,77.92 469.2,78.02 469.95,78.11 470.7,78.2 471.45,78.29 472.2,78.37 472.95,78.46 473.7,78.54 474.45,78.62 475.2,78.69 475.95,78.77 476.7,78.84 477.45,78.91 478.2,78.97 478.95,79.04 479.7,79.1 480.45,79.16 481.2,79.21 481.95,79.27 482.7,79.32 483.45,79.37 484.2,79.43 484.95,79.48 485.7,79.52 486.45,79.57 487.2,79.62 487.95,79.66 488.7,79.71 489.45,79.75 490.2,79.79 490.95,79.83 491.7,79.88 492.45,79.91 493.2,79.95 493.95,79.99 494.7,80.03 495.45,80.06 496.2,80.1 496.95,80.13 497.7,80.16 498.45,80.2 499.2,80.23 499.95,80.26 500.7,80.29 501.45,80.32 502.2,80.35 502.95,80.37 503.7,80.4 504.45,80.43 505.2,80.45 505.95,80.48 506.7,80.5 507.45,80.53 508.2,80.55 508.95,80.57 509.7,80.59 510.45,80.61 511.2,80.63 511.95,80.65 512.7,80.67 513.45,80.69 514,80.7" fill="none" stroke="#0c0c0c" stroke-width="0.95" stroke-linejoin="round" />
<polyline points="429.8,49.1 430.55,49.08 431.3,48.54 432.05,47.59 432.8,46.6 433.55,45.42 434.3,44.16 435.05,42.96 435.8,41.73 436.55,40.51 437.3,39.3 438.05,38.13 438.8,37 439.55,35.84 440.3,34.7 441.05,33.62 441.8,32.66 442.55,31.85 443.3,31.15 444.05,30.51 444.8,29.91 445.55,29.37 446.3,28.86 447.05,28.37 447.8,27.92 448.55,27.48 449.3,27.06 450.05,26.65 450.8,26.26 451.55,25.88 452.3,25.52 453.05,25.18 453.8,24.85 454.55,24.54 455.3,24.25 456.05,23.98 456.8,23.72 457.55,23.47 458.3,23.23 459.05,22.99 459.8,22.76 460.55,22.55 461.3,22.34 462.05,22.15 462.8,21.97 463.55,21.79 464.3,21.64 465.05,21.49 465.8,21.35 466.55,21.22 467.3,21.09 468.05,20.97 468.8,20.85 469.55,20.74 470.3,20.62 471.05,20.52 471.8,20.41 472.55,20.31 473.3,20.22 474.05,20.12 474.8,20.03 475.55,19.95 476.3,19.86 477.05,19.78 477.8,19.71 478.55,19.63 479.3,19.56 480.05,19.5 480.8,19.43 481.55,19.37 482.3,19.3 483.05,19.24 483.8,19.19 484.55,19.13 485.3,19.07 486.05,19.02 486.8,18.97 487.55,18.91 488.3,18.86 489.05,18.82 489.8,18.77 490.55,18.72 491.3,18.68 492.05,18.63 492.8,18.59 493.55,18.54 494.3,18.5 495.05,18.46 495.8,18.42 496.55,18.38 497.3,18.34 498.05,18.3 498.8,18.26 499.55,18.22 500.3,18.18 501.05,18.15 501.8,18.11 502.55,18.07 503.3,18.04 504.05,18 504.8,17.97 505.55,17.93 506.3,17.9 507.05,17.87 507.8,17.84 508.55,17.8 509.3,17.77 510.05,17.74 510.8,17.72 511.55,17.69 512.3,17.66 513.05,17.63 513.8,17.61 514,17.6" fill="none" stroke="#0c0c0c" stroke-width="0.95" stroke-linejoin="round" />
<polyline points="429.8,49.1 430.55,49.12 431.3,49.66 432.05,50.61 432.8,51.6 433.55,52.78 434.3,54.04 435.05,55.24 435.8,56.47 436.55,57.69 437.3,58.9 438.05,60.07 438.8,61.2 439.55,62.36 440.3,63.5 441.05,64.58 441.8,65.54 442.55,66.35 443.3,67.05 444.05,67.69 444.8,68.29 445.55,68.83 446.3,69.34 447.05,69.83 447.8,70.28 448.55,70.72 449.3,71.14 450.05,71.55 450.8,71.94 451.55,72.32 452.3,72.68 453.05,73.02 453.8,73.35 454.55,73.66 455.3,73.95 456.05,74.22 456.8,74.48 457.55,74.73 458.3,74.97 459.05,75.21 459.8,75.44 460.55,75.65 461.3,75.86 462.05,76.05 462.8,76.23 463.55,76.41 464.3,76.56 465.05,76.71 465.8,76.85 466.55,76.98 467.3,77.11 468.05,77.23 468.8,77.35 469.55,77.46 470.3,77.58 471.05,77.68 471.8,77.79 472.55,77.89 473.3,77.98 474.05,78.08 474.8,78.17 475.55,78.25 476.3,78.34 477.05,78.42 477.8,78.49 478.55,78.57 479.3,78.64 480.05,78.7 480.8,78.77 481.55,78.83 482.3,78.9 483.05,78.96 483.8,79.01 484.55,79.07 485.3,79.13 486.05,79.18 486.8,79.23 487.55,79.29 488.3,79.34 489.05,79.38 489.8,79.43 490.55,79.48 491.3,79.52 492.05,79.57 492.8,79.61 493.55,79.66 494.3,79.7 495.05,79.74 495.8,79.78 496.55,79.82 497.3,79.86 498.05,79.9 498.8,79.94 499.55,79.98 500.3,80.02 501.05,80.05 501.8,80.09 502.55,80.13 503.3,80.16 504.05,80.2 504.8,80.23 505.55,80.27 506.3,80.3 507.05,80.33 507.8,80.36 508.55,80.4 509.3,80.43 510.05,80.46 510.8,80.48 511.55,80.51 512.3,80.54 513.05,80.57 513.8,80.59 514,80.6" fill="none" stroke="#0c0c0c" stroke-width="0.95" stroke-linejoin="round" />
<polyline points="452.4,49.1 453.15,49.09 453.9,48.87 454.65,48.4 455.4,47.8 456.15,47.17 456.9,46.39 457.65,45.42 458.4,44.36 459.15,43.28 459.9,42.1 460.65,40.8 461.4,39.48 462.15,38.22 462.9,37.13 463.65,36.19 464.4,35.29 465.15,34.42 465.9,33.6 466.65,32.81 467.4,32.06 468.15,31.35 468.9,30.68 469.65,30.05 470.4,29.45 471.15,28.89 471.9,28.36 472.65,27.84 473.4,27.35 474.15,26.87 474.9,26.42 475.65,26 476.4,25.59 477.15,25.22 477.9,24.86 478.65,24.54 479.4,24.24 480.15,23.97 480.9,23.71 481.65,23.46 482.4,23.23 483.15,23.01 483.9,22.8 484.65,22.6 485.4,22.4 486.15,22.21 486.9,22.02 487.65,21.84 488.4,21.66 489.15,21.49 489.9,21.32 490.65,21.16 491.4,21 492.15,20.85 492.9,20.7 493.65,20.55 494.4,20.41 495.15,20.27 495.9,20.14 496.65,20 497.4,19.87 498.15,19.74 498.9,19.61 499.65,19.49 500.4,19.37 501.15,19.26 501.9,19.15 502.65,19.05 503.4,18.95 504.15,18.85 504.9,18.75 505.65,18.66 506.4,18.57 507.15,18.48 507.9,18.39 508.65,18.31 509.4,18.23 510.15,18.15 510.9,18.07 511.65,18 512.4,17.93 513.15,17.87 513.9,17.81 514,17.8" fill="none" stroke="#0c0c0c" stroke-width="0.95" stroke-linejoin="round" />
<polyline points="452.4,49.1 453.15,49.11 453.9,49.33 454.65,49.8 455.4,50.4 456.15,51.03 456.9,51.81 457.65,52.78 458.4,53.84 459.15,54.92 459.9,56.1 460.65,57.4 461.4,58.72 462.15,59.98 462.9,61.07 463.65,62.01 464.4,62.91 465.15,63.78 465.9,64.6 466.65,65.39 467.4,66.14 468.15,66.85 468.9,67.52 469.65,68.15 470.4,68.75 471.15,69.31 471.9,69.84 472.65,70.36 473.4,70.85 474.15,71.33 474.9,71.78 475.65,72.2 476.4,72.61 477.15,72.98 477.9,73.34 478.65,73.66 479.4,73.96 480.15,74.23 480.9,74.49 481.65,74.74 482.4,74.97 483.15,75.19 483.9,75.4 484.65,75.6 485.4,75.8 486.15,75.99 486.9,76.18 487.65,76.36 488.4,76.54 489.15,76.71 489.9,76.88 490.65,77.04 491.4,77.2 492.15,77.35 492.9,77.5 493.65,77.65 494.4,77.79 495.15,77.93 495.9,78.06 496.65,78.2 497.4,78.33 498.15,78.46 498.9,78.59 499.65,78.71 500.4,78.83 501.15,78.94 501.9,79.05 502.65,79.15 503.4,79.25 504.15,79.35 504.9,79.45 505.65,79.54 506.4,79.63 507.15,79.72 507.9,79.81 508.65,79.89 509.4,79.97 510.15,80.05 510.9,80.13 511.65,80.2 512.4,80.27 513.15,80.33 513.9,80.39 514,80.4" fill="none" stroke="#0c0c0c" stroke-width="0.95" stroke-linejoin="round" />
<polyline points="459.4,49.1 460.15,49.1 460.9,48.97 461.65,48.72 462.4,48.42 463.15,48.15 463.9,47.88 464.65,47.6 465.4,47.3 466.15,46.98 466.9,46.65 467.65,46.28 468.4,45.89 469.15,45.47 469.9,45.04 470.65,44.6 471.4,44.17 472.15,43.72 472.9,43.27 473.65,42.81 474.4,42.35 475.15,41.88 475.9,41.41 476.65,40.94 477.4,40.48 478.15,40.01 478.9,39.56 479.65,39.11 480.4,38.65 481.15,38.19 481.9,37.73 482.65,37.27 483.4,36.82 484.15,36.37 484.9,35.94 485.65,35.52 486.4,35.11 487.15,34.72 487.9,34.35 488.65,33.98 489.4,33.62 490.15,33.27 490.9,32.93 491.65,32.6 492.4,32.27 493.15,31.95 493.9,31.64 494.65,31.34 495.4,31.04 496.15,30.75 496.9,30.47 497.65,30.19 498.4,29.92 499.15,29.66 499.9,29.4 500.65,29.15 501.4,28.9 502.15,28.66 502.9,28.43 503.65,28.2 504.4,27.98 505.15,27.76 505.9,27.55 506.65,27.33 507.4,27.12 508.15,26.92 508.9,26.72 509.65,26.53 510.4,26.34 511.15,26.15 511.9,25.97 512.65,25.8 513.4,25.63 514,25.5" fill="none" stroke="#0c0c0c" stroke-width="0.95" stroke-linejoin="round" />
<polyline points="459.4,49.1 460.15,49.1 460.9,49.23 461.65,49.48 462.4,49.78 463.15,50.05 463.9,50.32 464.65,50.6 465.4,50.9 466.15,51.22 466.9,51.55 467.65,51.92 468.4,52.31 469.15,52.73 469.9,53.16 470.65,53.6 471.4,54.03 472.15,54.48 472.9,54.93 473.65,55.39 474.4,55.85 475.15,56.32 475.9,56.79 476.65,57.26 477.4,57.72 478.15,58.19 478.9,58.64 479.65,59.09 480.4,59.55 481.15,60.01 481.9,60.47 482.65,60.93 483.4,61.38 484.15,61.83 484.9,62.26 485.65,62.68 486.4,63.09 487.15,63.48 487.9,63.85 488.65,64.22 489.4,64.58 490.15,64.93 490.9,65.27 491.65,65.6 492.4,65.93 493.15,66.25 493.9,66.56 494.65,66.86 495.4,67.16 496.15,67.45 496.9,67.73 497.65,68.01 498.4,68.28 499.15,68.54 499.9,68.8 500.65,69.05 501.4,69.3 502.15,69.54 502.9,69.77 503.65,70 504.4,70.22 505.15,70.44 505.9,70.65 506.65,70.87 507.4,71.08 508.15,71.28 508.9,71.48 509.65,71.67 510.4,71.86 511.15,72.05 511.9,72.23 512.65,72.4 513.4,72.57 514,72.7" fill="none" stroke="#0c0c0c" stroke-width="0.95" stroke-linejoin="round" />
<polyline points="465.4,49.1 466.15,49.1 466.9,49.07 467.65,49.01 468.4,48.93 469.15,48.84 469.9,48.74 470.65,48.64 471.4,48.56 472.15,48.47 472.9,48.38 473.65,48.29 474.4,48.19 475.15,48.1 475.9,48 476.65,47.9 477.4,47.8 478.15,47.71 478.9,47.61 479.65,47.52 480.4,47.43 481.15,47.34 481.9,47.25 482.65,47.16 483.4,47.07 484.15,46.98 484.9,46.89 485.65,46.79 486.4,46.69 487.15,46.58 487.9,46.46 488.65,46.34 489.4,46.22 490.15,46.09 490.9,45.96 491.65,45.82 492.4,45.69 493.15,45.55 493.9,45.41 494.65,45.27 495.4,45.12 496.15,44.98 496.9,44.83 497.65,44.68 498.4,44.53 499.15,44.38 499.9,44.22 500.65,44.07 501.4,43.92 502.15,43.77 502.9,43.62 503.65,43.47 504.4,43.33 505.15,43.18 505.9,43.04 506.65,42.89 507.4,42.75 508.15,42.6 508.9,42.46 509.65,42.32 510.4,42.17 511.15,42.03 511.9,41.89 512.65,41.75 513.4,41.61 514,41.5" fill="none" stroke="#0c0c0c" stroke-width="0.95" stroke-linejoin="round" />
<polyline points="465.4,49.1 466.15,49.1 466.9,49.13 467.65,49.19 468.4,49.27 469.15,49.36 469.9,49.46 470.65,49.56 471.4,49.64 472.15,49.73 472.9,49.82 473.65,49.91 474.4,50.01 475.15,50.1 475.9,50.2 476.65,50.3 477.4,50.4 478.15,50.49 478.9,50.59 479.65,50.68 480.4,50.77 481.15,50.86 481.9,50.95 482.65,51.04 483.4,51.13 484.15,51.22 484.9,51.31 485.65,51.41 486.4,51.51 487.15,51.62 487.9,51.74 488.65,51.86 489.4,51.98 490.15,52.11 490.9,52.24 491.65,52.38 492.4,52.51 493.15,52.65 493.9,52.79 494.65,52.93 495.4,53.08 496.15,53.22 496.9,53.37 497.65,53.52 498.4,53.67 499.15,53.82 499.9,53.98 500.65,54.13 501.4,54.28 502.15,54.43 502.9,54.58 503.65,54.73 504.4,54.87 505.15,55.02 505.9,55.16 506.65,55.31 507.4,55.45 508.15,55.6 508.9,55.74 509.65,55.88 510.4,56.03 511.15,56.17 511.9,56.31 512.65,56.45 513.4,56.59 514,56.7" fill="none" stroke="#0c0c0c" stroke-width="0.95" stroke-linejoin="round" />
<text x="0.8" y="137.5" font-size="10.3" text-anchor="start" fill="#000" font-weight="bold" stroke="#000" stroke-width="0.4" >D</text>
<line x1="29.6" y1="141.4" x2="29.6" y2="214.2" stroke="#1a1a1a" stroke-width="0.85" />
<line x1="29.6" y1="213.8" x2="24.6" y2="213.8" stroke="#1a1a1a" stroke-width="0.85" />
<text x="23.3" y="216.3" font-size="7" text-anchor="end" fill="#111" stroke="#111" stroke-width="0.25" >0</text>
<line x1="29.6" y1="209" x2="26.9" y2="209" stroke="#1a1a1a" stroke-width="0.85" />
<line x1="29.6" y1="204.2" x2="26.9" y2="204.2" stroke="#1a1a1a" stroke-width="0.85" />
<line x1="29.6" y1="199.4" x2="26.9" y2="199.4" stroke="#1a1a1a" stroke-width="0.85" />
<line x1="29.6" y1="194.6" x2="26.9" y2="194.6" stroke="#1a1a1a" stroke-width="0.85" />
<line x1="29.6" y1="189.8" x2="24.6" y2="189.8" stroke="#1a1a1a" stroke-width="0.85" />
<text x="23.3" y="192.3" font-size="7" text-anchor="end" fill="#111" stroke="#111" stroke-width="0.25" >5</text>
<line x1="29.6" y1="185" x2="26.9" y2="185" stroke="#1a1a1a" stroke-width="0.85" />
<line x1="29.6" y1="180.2" x2="26.9" y2="180.2" stroke="#1a1a1a" stroke-width="0.85" />
<line x1="29.6" y1="175.4" x2="26.9" y2="175.4" stroke="#1a1a1a" stroke-width="0.85" />
<line x1="29.6" y1="170.6" x2="26.9" y2="170.6" stroke="#1a1a1a" stroke-width="0.85" />
<line x1="29.6" y1="165.8" x2="24.6" y2="165.8" stroke="#1a1a1a" stroke-width="0.85" />
<text x="23.3" y="168.3" font-size="7" text-anchor="end" fill="#111" stroke="#111" stroke-width="0.25" >10</text>
<line x1="29.6" y1="161" x2="26.9" y2="161" stroke="#1a1a1a" stroke-width="0.85" />
<line x1="29.6" y1="156.2" x2="26.9" y2="156.2" stroke="#1a1a1a" stroke-width="0.85" />
<line x1="29.6" y1="151.4" x2="26.9" y2="151.4" stroke="#1a1a1a" stroke-width="0.85" />
<line x1="29.6" y1="146.6" x2="26.9" y2="146.6" stroke="#1a1a1a" stroke-width="0.85" />
<line x1="29.6" y1="141.8" x2="24.6" y2="141.8" stroke="#1a1a1a" stroke-width="0.85" />
<text x="23.3" y="144.3" font-size="7" text-anchor="end" fill="#111" stroke="#111" stroke-width="0.25" >15</text>
<text x="9.8" y="177.8" font-size="8.9" text-anchor="middle" fill="#111" stroke="#111" stroke-width="0.25" transform="rotate(-90 9.8 177.8)" >MTG (x100 mm/s)</text>
<line x1="39.6" y1="224.7" x2="144.6" y2="224.7" stroke="#1a1a1a" stroke-width="0.85" />
<line x1="40" y1="224.7" x2="40" y2="229.3" stroke="#1a1a1a" stroke-width="0.85" />
<text x="40" y="238.1" font-size="7" text-anchor="middle" fill="#111" stroke="#111" stroke-width="0.25" >0</text>
<line x1="44.17" y1="224.7" x2="44.17" y2="227.4" stroke="#1a1a1a" stroke-width="0.85" />
<line x1="48.34" y1="224.7" x2="48.34" y2="227.4" stroke="#1a1a1a" stroke-width="0.85" />
<line x1="52.5" y1="224.7" x2="52.5" y2="227.4" stroke="#1a1a1a" stroke-width="0.85" />
<line x1="56.67" y1="224.7" x2="56.67" y2="227.4" stroke="#1a1a1a" stroke-width="0.85" />
<line x1="60.84" y1="224.7" x2="60.84" y2="229.3" stroke="#1a1a1a" stroke-width="0.85" />
<text x="60.84" y="238.1" font-size="7" text-anchor="middle" fill="#111" stroke="#111" stroke-width="0.25" >10</text>
<line x1="65.01" y1="224.7" x2="65.01" y2="227.4" stroke="#1a1a1a" stroke-width="0.85" />
<line x1="69.18" y1="224.7" x2="69.18" y2="227.4" stroke="#1a1a1a" stroke-width="0.85" />
<line x1="73.34" y1="224.7" x2="73.34" y2="227.4" stroke="#1a1a1a" stroke-width="0.85" />
<line x1="77.51" y1="224.7" x2="77.51" y2="227.4" stroke="#1a1a1a" stroke-width="0.85" />
<line x1="81.68" y1="224.7" x2="81.68" y2="229.3" stroke="#1a1a1a" stroke-width="0.85" />
<text x="81.68" y="238.1" font-size="7" text-anchor="middle" fill="#111" stroke="#111" stroke-width="0.25" >20</text>
<line x1="85.85" y1="224.7" x2="85.85" y2="227.4" stroke="#1a1a1a" stroke-width="0.85" />
<line x1="90.02" y1="224.7" x2="90.02" y2="227.4" stroke="#1a1a1a" stroke-width="0.85" />
<line x1="94.18" y1="224.7" x2="94.18" y2="227.4" stroke="#1a1a1a" stroke-width="0.85" />
<line x1="98.35" y1="224.7" x2="98.35" y2="227.4" stroke="#1a1a1a" stroke-width="0.85" />
<line x1="102.52" y1="224.7" x2="102.52" y2="229.3" stroke="#1a1a1a" stroke-width="0.85" />
<text x="102.52" y="238.1" font-size="7" text-anchor="middle" fill="#111" stroke="#111" stroke-width="0.25" >30</text>
<line x1="106.69" y1="224.7" x2="106.69" y2="227.4" stroke="#1a1a1a" stroke-width="0.85" />
<line x1="110.86" y1="224.7" x2="110.86" y2="227.4" stroke="#1a1a1a" stroke-width="0.85" />
<line x1="115.02" y1="224.7" x2="115.02" y2="227.4" stroke="#1a1a1a" stroke-width="0.85" />
<line x1="119.19" y1="224.7" x2="119.19" y2="227.4" stroke="#1a1a1a" stroke-width="0.85" />
<line x1="123.36" y1="224.7" x2="123.36" y2="229.3" stroke="#1a1a1a" stroke-width="0.85" />
<text x="123.36" y="238.1" font-size="7" text-anchor="middle" fill="#111" stroke="#111" stroke-width="0.25" >40</text>
<line x1="127.53" y1="224.7" x2="127.53" y2="227.4" stroke="#1a1a1a" stroke-width="0.85" />
<line x1="131.7" y1="224.7" x2="131.7" y2="227.4" stroke="#1a1a1a" stroke-width="0.85" />
<line x1="135.86" y1="224.7" x2="135.86" y2="227.4" stroke="#1a1a1a" stroke-width="0.85" />
<line x1="140.03" y1="224.7" x2="140.03" y2="227.4" stroke="#1a1a1a" stroke-width="0.85" />
<line x1="144.2" y1="224.7" x2="144.2" y2="229.3" stroke="#1a1a1a" stroke-width="0.85" />
<text x="144.2" y="238.1" font-size="7" text-anchor="middle" fill="#111" stroke="#111" stroke-width="0.25" >50</text>
<text x="91.8" y="248.3" font-size="8.9" text-anchor="middle" fill="#111" stroke="#111" stroke-width="0.25" >Time (days)</text>
<line x1="108" y1="138" x2="120" y2="138" stroke="#0a0a0a" stroke-width="0.85" />
<circle cx="114" cy="138" r="2.65" fill="#0a0a0a"/>
<text x="122.9" y="140.6" font-size="7.1" text-anchor="start" fill="#111" stroke="#111" stroke-width="0.25" >N9-GP</text>
<line x1="108" y1="147.3" x2="120" y2="147.3" stroke="#8e8e8e" stroke-width="0.85" />
<rect x="111.4" y="144.7" width="5.2" height="5.2" fill="#8e8e8e"/>
<text x="122.2" y="149.9" font-size="7.1" text-anchor="start" fill="#222" stroke="#222" stroke-width="0.25" >rFIX</text>
<polyline points="40,210 40.1,146" fill="none" stroke="#8e8e8e" stroke-width="0.85" stroke-linejoin="round" />
<polyline points="40.3,149.5 40.6,165 41,172 42.5,175 45,173 46.5,170 48,172.5 50.5,172.5 53,167 54.5,170 56.3,182.5 59,187.5 60,190 62.5,182.8" fill="none" stroke="#8e8e8e" stroke-width="0.85" stroke-linejoin="round" />
<rect x="37.4" y="207.4" width="5.2" height="5.2" fill="#8e8e8e"/>
<rect x="37.5" y="143.4" width="5.2" height="5.2" fill="#8e8e8e"/>
<rect x="37.7" y="146.9" width="5.2" height="5.2" fill="#8e8e8e"/>
<rect x="38" y="162.4" width="5.2" height="5.2" fill="#8e8e8e"/>
<rect x="38.4" y="169.4" width="5.2" height="5.2" fill="#8e8e8e"/>
<rect x="39.9" y="172.4" width="5.2" height="5.2" fill="#8e8e8e"/>
<rect x="42.4" y="170.4" width="5.2" height="5.2" fill="#8e8e8e"/>
<rect x="43.9" y="167.4" width="5.2" height="5.2" fill="#8e8e8e"/>
<rect x="45.4" y="169.9" width="5.2" height="5.2" fill="#8e8e8e"/>
<rect x="47.9" y="169.9" width="5.2" height="5.2" fill="#8e8e8e"/>
<rect x="50.4" y="164.4" width="5.2" height="5.2" fill="#8e8e8e"/>
<rect x="51.9" y="167.4" width="5.2" height="5.2" fill="#8e8e8e"/>
<rect x="53.7" y="179.9" width="5.2" height="5.2" fill="#8e8e8e"/>
<rect x="56.4" y="184.9" width="5.2" height="5.2" fill="#8e8e8e"/>
<rect x="57.4" y="187.4" width="5.2" height="5.2" fill="#8e8e8e"/>
<rect x="59.9" y="180.2" width="5.2" height="5.2" fill="#8e8e8e"/>
<polyline points="40,213.5 40.6,186.3 40,175.6 40.2,167.5 40.3,160 40.4,157 40.5,152.5 40.8,150.5 42.1,171.9 43.75,164.8 46.5,159 50,158.5 54,158.3 58.5,171.3 65,158.3 73.5,149.5 76.5,152.5 80,155 85.5,163 90,156 94,155 100,161.5 104.5,168 115,162.5 119,177.5 123.5,190.5 129.5,205 133.5,213.5 137.5,195" fill="none" stroke="#0a0a0a" stroke-width="0.85" stroke-linejoin="round" />
<circle cx="40" cy="213.5" r="2.65" fill="#0a0a0a"/>
<circle cx="40.6" cy="186.3" r="2.65" fill="#0a0a0a"/>
<circle cx="40" cy="175.6" r="2.65" fill="#0a0a0a"/>
<circle cx="40.2" cy="167.5" r="2.65" fill="#0a0a0a"/>
<circle cx="40.3" cy="160" r="2.65" fill="#0a0a0a"/>
<circle cx="40.4" cy="157" r="2.65" fill="#0a0a0a"/>
<circle cx="40.5" cy="152.5" r="2.65" fill="#0a0a0a"/>
<circle cx="40.8" cy="150.5" r="2.65" fill="#0a0a0a"/>
<circle cx="42.1" cy="171.9" r="2.65" fill="#0a0a0a"/>
<circle cx="43.75" cy="164.8" r="2.65" fill="#0a0a0a"/>
<circle cx="46.5" cy="159" r="2.65" fill="#0a0a0a"/>
<circle cx="50" cy="158.5" r="2.65" fill="#0a0a0a"/>
<circle cx="54" cy="158.3" r="2.65" fill="#0a0a0a"/>
<circle cx="58.5" cy="171.3" r="2.65" fill="#0a0a0a"/>
<circle cx="65" cy="158.3" r="2.65" fill="#0a0a0a"/>
<circle cx="73.5" cy="149.5" r="2.65" fill="#0a0a0a"/>
<circle cx="76.5" cy="152.5" r="2.65" fill="#0a0a0a"/>
<circle cx="80" cy="155" r="2.65" fill="#0a0a0a"/>
<circle cx="85.5" cy="163" r="2.65" fill="#0a0a0a"/>
<circle cx="90" cy="156" r="2.65" fill="#0a0a0a"/>
<circle cx="94" cy="155" r="2.65" fill="#0a0a0a"/>
<circle cx="100" cy="161.5" r="2.65" fill="#0a0a0a"/>
<circle cx="104.5" cy="168" r="2.65" fill="#0a0a0a"/>
<circle cx="115" cy="162.5" r="2.65" fill="#0a0a0a"/>
<circle cx="119" cy="177.5" r="2.65" fill="#0a0a0a"/>
<circle cx="123.5" cy="190.5" r="2.65" fill="#0a0a0a"/>
<circle cx="129.5" cy="205" r="2.65" fill="#0a0a0a"/>
<circle cx="133.5" cy="213.5" r="2.65" fill="#0a0a0a"/>
<circle cx="137.5" cy="195" r="2.65" fill="#0a0a0a"/>
<text x="199" y="137.5" font-size="10.3" text-anchor="start" fill="#000" font-weight="bold" stroke="#000" stroke-width="0.4" >E</text>
<line x1="229.2" y1="138.77" x2="229.2" y2="225.2" stroke="#1a1a1a" stroke-width="0.85" />
<line x1="229.2" y1="225" x2="224.2" y2="225" stroke="#1a1a1a" stroke-width="0.85" />
<line x1="229.2" y1="215.43" x2="226.5" y2="215.43" stroke="#1a1a1a" stroke-width="0.85" />
<line x1="229.2" y1="209.83" x2="226.5" y2="209.83" stroke="#1a1a1a" stroke-width="0.85" />
<line x1="229.2" y1="205.85" x2="226.5" y2="205.85" stroke="#1a1a1a" stroke-width="0.85" />
<line x1="229.2" y1="202.77" x2="226.5" y2="202.77" stroke="#1a1a1a" stroke-width="0.85" />
<line x1="229.2" y1="200.25" x2="226.5" y2="200.25" stroke="#1a1a1a" stroke-width="0.85" />
<line x1="229.2" y1="198.13" x2="226.5" y2="198.13" stroke="#1a1a1a" stroke-width="0.85" />
<line x1="229.2" y1="196.28" x2="226.5" y2="196.28" stroke="#1a1a1a" stroke-width="0.85" />
<line x1="229.2" y1="194.66" x2="226.5" y2="194.66" stroke="#1a1a1a" stroke-width="0.85" />
<line x1="229.2" y1="193.2" x2="224.2" y2="193.2" stroke="#1a1a1a" stroke-width="0.85" />
<line x1="229.2" y1="183.63" x2="226.5" y2="183.63" stroke="#1a1a1a" stroke-width="0.85" />
<line x1="229.2" y1="178.03" x2="226.5" y2="178.03" stroke="#1a1a1a" stroke-width="0.85" />
<line x1="229.2" y1="174.05" x2="226.5" y2="174.05" stroke="#1a1a1a" stroke-width="0.85" />
<line x1="229.2" y1="170.97" x2="226.5" y2="170.97" stroke="#1a1a1a" stroke-width="0.85" />
<line x1="229.2" y1="168.45" x2="226.5" y2="168.45" stroke="#1a1a1a" stroke-width="0.85" />
<line x1="229.2" y1="166.33" x2="226.5" y2="166.33" stroke="#1a1a1a" stroke-width="0.85" />
<line x1="229.2" y1="164.48" x2="226.5" y2="164.48" stroke="#1a1a1a" stroke-width="0.85" />
<line x1="229.2" y1="162.86" x2="226.5" y2="162.86" stroke="#1a1a1a" stroke-width="0.85" />
<line x1="229.2" y1="161.4" x2="224.2" y2="161.4" stroke="#1a1a1a" stroke-width="0.85" />
<line x1="229.2" y1="151.83" x2="226.5" y2="151.83" stroke="#1a1a1a" stroke-width="0.85" />
<line x1="229.2" y1="146.23" x2="226.5" y2="146.23" stroke="#1a1a1a" stroke-width="0.85" />
<line x1="229.2" y1="142.25" x2="226.5" y2="142.25" stroke="#1a1a1a" stroke-width="0.85" />
<line x1="229.2" y1="139.17" x2="226.5" y2="139.17" stroke="#1a1a1a" stroke-width="0.85" />
<text x="222.9" y="141.67" font-size="7" text-anchor="end" fill="#111" stroke="#111" stroke-width="0.25" >5</text>
<text x="222.9" y="163.9" font-size="7" text-anchor="end" fill="#111" stroke="#111" stroke-width="0.25" >1</text>
<text x="222.9" y="195.7" font-size="7" text-anchor="end" fill="#111" stroke="#111" stroke-width="0.25" >0.1</text>
<text x="222.9" y="227.5" font-size="7" text-anchor="end" fill="#111" stroke="#111" stroke-width="0.25" >0.01</text>
<line x1="229.2" y1="139.17" x2="224.2" y2="139.17" stroke="#1a1a1a" stroke-width="0.85" />
<text x="207.4" y="181.5" font-size="8.7" text-anchor="middle" fill="#111" stroke="#111" stroke-width="0.25" transform="rotate(-90 207.4 181.5)" >FIX level (µg/ml)</text>
<line x1="229" y1="225.2" x2="349.8" y2="225.2" stroke="#1a1a1a" stroke-width="0.85" />
<line x1="229.4" y1="225.2" x2="229.4" y2="229.8" stroke="#1a1a1a" stroke-width="0.85" />
<text x="229.4" y="238.1" font-size="7" text-anchor="middle" fill="#111" stroke="#111" stroke-width="0.25" >0</text>
<line x1="237.97" y1="225.2" x2="237.97" y2="227.9" stroke="#1a1a1a" stroke-width="0.85" />
<line x1="246.54" y1="225.2" x2="246.54" y2="229.8" stroke="#1a1a1a" stroke-width="0.85" />
<text x="246.54" y="238.1" font-size="7" text-anchor="middle" fill="#111" stroke="#111" stroke-width="0.25" >2</text>
<line x1="255.11" y1="225.2" x2="255.11" y2="227.9" stroke="#1a1a1a" stroke-width="0.85" />
<line x1="263.69" y1="225.2" x2="263.69" y2="229.8" stroke="#1a1a1a" stroke-width="0.85" />
<text x="263.69" y="238.1" font-size="7" text-anchor="middle" fill="#111" stroke="#111" stroke-width="0.25" >4</text>
<line x1="272.26" y1="225.2" x2="272.26" y2="227.9" stroke="#1a1a1a" stroke-width="0.85" />
<line x1="280.83" y1="225.2" x2="280.83" y2="229.8" stroke="#1a1a1a" stroke-width="0.85" />
<text x="280.83" y="238.1" font-size="7" text-anchor="middle" fill="#111" stroke="#111" stroke-width="0.25" >6</text>
<line x1="289.4" y1="225.2" x2="289.4" y2="227.9" stroke="#1a1a1a" stroke-width="0.85" />
<line x1="297.97" y1="225.2" x2="297.97" y2="229.8" stroke="#1a1a1a" stroke-width="0.85" />
<text x="297.97" y="238.1" font-size="7" text-anchor="middle" fill="#111" stroke="#111" stroke-width="0.25" >8</text>
<line x1="306.54" y1="225.2" x2="306.54" y2="227.9" stroke="#1a1a1a" stroke-width="0.85" />
<line x1="315.11" y1="225.2" x2="315.11" y2="229.8" stroke="#1a1a1a" stroke-width="0.85" />
<text x="315.11" y="238.1" font-size="7" text-anchor="middle" fill="#111" stroke="#111" stroke-width="0.25" >10</text>
<line x1="323.69" y1="225.2" x2="323.69" y2="227.9" stroke="#1a1a1a" stroke-width="0.85" />
<line x1="332.26" y1="225.2" x2="332.26" y2="229.8" stroke="#1a1a1a" stroke-width="0.85" />
<text x="332.26" y="238.1" font-size="7" text-anchor="middle" fill="#111" stroke="#111" stroke-width="0.25" >12</text>
<line x1="340.83" y1="225.2" x2="340.83" y2="227.9" stroke="#1a1a1a" stroke-width="0.85" />
<line x1="349.4" y1="225.2" x2="349.4" y2="229.8" stroke="#1a1a1a" stroke-width="0.85" />
<text x="349.4" y="238.1" font-size="7" text-anchor="middle" fill="#111" stroke="#111" stroke-width="0.25" >14</text>
<text x="289" y="248" font-size="8.9" text-anchor="middle" fill="#111" stroke="#111" stroke-width="0.25" >Time (days)</text>
<line x1="229.2" y1="202.6" x2="349.4" y2="202.6" stroke="#9c9c9c" stroke-width="0.75" stroke-dasharray="2.4 1.4"/>
<text x="322.3" y="212.8" font-size="7.2" text-anchor="middle" fill="#999" stroke="#999" stroke-width="0.1" >1% level</text>
<line x1="315" y1="138" x2="327" y2="138" stroke="#0a0a0a" stroke-width="0.85" />
<circle cx="321" cy="138" r="2.65" fill="#0a0a0a"/>
<text x="329.9" y="140.6" font-size="7.1" text-anchor="start" fill="#111" stroke="#111" stroke-width="0.25" >N9-GP</text>
<line x1="315" y1="147.1" x2="327" y2="147.1" stroke="#8e8e8e" stroke-width="0.85" />
<rect x="318.4" y="144.5" width="5.2" height="5.2" fill="#8e8e8e"/>
<text x="329.2" y="149.7" font-size="7.1" text-anchor="start" fill="#222" stroke="#222" stroke-width="0.25" >rFIX</text>
<rect x="227.9" y="151.1" width="3.8" height="3.8" fill="#8e8e8e"/>
<rect x="228.3" y="156.1" width="3.8" height="3.8" fill="#8e8e8e"/>
<rect x="228.7" y="161.1" width="3.8" height="3.8" fill="#8e8e8e"/>
<rect x="229.3" y="166.1" width="3.8" height="3.8" fill="#8e8e8e"/>
<rect x="231.6" y="171.6" width="3.8" height="3.8" fill="#8e8e8e"/>
<rect x="236.6" y="180.1" width="3.8" height="3.8" fill="#8e8e8e"/>
<rect x="231.1" y="183.1" width="3.8" height="3.8" fill="#8e8e8e"/>
<rect x="235.6" y="191.6" width="3.8" height="3.8" fill="#8e8e8e"/>
<rect x="240.6" y="191.1" width="3.8" height="3.8" fill="#8e8e8e"/>
<rect x="244.3" y="199.1" width="3.8" height="3.8" fill="#8e8e8e"/>
<rect x="240.1" y="204.6" width="3.8" height="3.8" fill="#8e8e8e"/>
<polyline points="229.4,150 229.9,163.84 230.4,167.24 230.9,169.33 231.4,170.83 231.9,171.92 232.4,172.81 232.9,173.69 233.4,174.75 233.9,176.03 234.4,177.29 234.9,178.52 235.4,179.72 235.9,180.9 236.4,182.05 236.9,183.18 237.4,184.28 237.9,185.36 238.4,186.41 238.9,187.43 239.4,188.43 239.9,189.42 240.4,190.4 240.9,191.37 241.4,192.33 241.9,193.31 242.4,194.28 242.9,195.25 243.4,196.21 243.9,197.17 244.4,198.12 244.9,199.07 245.4,200.01 245.9,200.94 246.2,201.5" fill="none" stroke="#2a2a2a" stroke-width="1.0" stroke-linejoin="round" />
<polyline points="229.4,150 229.9,152.63 230.4,154.92 230.9,156.72 231.4,158.02 231.9,159.12 232.4,160.02 232.9,160.69 233.4,161.18 233.9,161.59 234.4,161.95 234.9,162.27 235.4,162.55 235.9,162.8 236.4,163.05 236.9,163.29 237.4,163.55 237.9,163.81 238.4,164.06 238.9,164.31 239.4,164.54 239.9,164.77 240.4,165 240.9,165.22 241.4,165.44 241.9,165.65 242.4,165.86 242.9,166.07 243.4,166.28 243.9,166.49 244.4,166.71 244.9,166.92 245.4,167.14 245.9,167.36 246.4,167.59 246.9,167.82 247.4,168.06 247.9,168.29 248.4,168.53 248.9,168.76 249.4,169 249.9,169.24 250.4,169.48 250.9,169.72 251.4,169.97 251.9,170.21 252.4,170.45 252.9,170.7 253.4,170.94 253.9,171.18 254.4,171.43 254.9,171.67 255.4,171.91 255.9,172.15 256.4,172.39 256.9,172.63 257.4,172.87 257.9,173.11 258.4,173.34 258.9,173.58 259.4,173.81 259.9,174.04 260.4,174.27 260.9,174.49 261.4,174.72 261.9,174.94 262.4,175.16 262.9,175.37 263.4,175.58 263.9,175.8 264.4,176.01 264.9,176.22 265.4,176.43 265.9,176.64 266.4,176.84 266.9,177.05 267.4,177.26 267.9,177.46 268.4,177.67 268.9,177.87 269.4,178.07 269.9,178.27 270.4,178.47 270.9,178.67 271.4,178.87 271.9,179.06 272.4,179.26 272.9,179.45 273.4,179.64 273.9,179.83 274.4,180.02 274.9,180.21 275.4,180.39 275.9,180.57 276.4,180.76 276.9,180.94 277.4,181.11 277.9,181.29 278.4,181.46 278.9,181.63 279.4,181.8 279.9,181.97 280.4,182.13 280.9,182.3 281.4,182.46 281.9,182.61 282.4,182.77 282.9,182.92 283.4,183.07 283.9,183.22 284.4,183.37 284.9,183.52 285.4,183.66 285.9,183.8 286.4,183.94 286.9,184.08 287.4,184.22 287.9,184.36 288.4,184.5 288.9,184.63 289.4,184.77 289.9,184.9 290.4,185.04 290.9,185.17 291.4,185.31 291.9,185.44 292.4,185.57 292.9,185.71 293.4,185.84 293.9,185.98 294.4,186.11 294.9,186.25 295.4,186.39 295.9,186.52 296.4,186.66 296.9,186.8 297.4,186.94 297.9,187.09 298.4,187.23 298.9,187.37 299.4,187.51 299.9,187.66 300.4,187.8 300.9,187.94 301.4,188.09 301.9,188.23 302.4,188.38 302.9,188.52 303.4,188.66 303.9,188.81 304.4,188.95 304.9,189.1 305.4,189.24 305.9,189.38 306.4,189.53 306.9,189.67 307.4,189.82 307.9,189.96 308.4,190.11 308.9,190.25 309.4,190.39 309.9,190.54 310.4,190.68 310.9,190.83 311.4,190.97 311.9,191.11 312.4,191.26 312.9,191.4 313.4,191.54 313.9,191.69 314.4,191.83 314.9,191.97 315.4,192.11 315.9,192.26 316.4,192.4 316.9,192.54 317.4,192.68 317.9,192.82 318.4,192.96 318.9,193.1 319.4,193.24 319.9,193.38 320.4,193.52 320.9,193.65 321.4,193.79 321.9,193.93 322.4,194.07 322.9,194.21 323.4,194.35 323.9,194.49 324.4,194.63 324.9,194.77 325.4,194.91 325.9,195.05 326.4,195.19 326.9,195.33 327.4,195.47 327.9,195.61 328.4,195.76 328.9,195.9 329.4,196.04 329.9,196.19 330.4,196.33 330.9,196.48 331.4,196.62 331.9,196.77 332.4,196.92 332.9,197.07 333.4,197.22 333.9,197.36 334.4,197.51 334.9,197.66 335.4,197.82 335.9,197.97 336.4,198.12 336.9,198.27 337.4,198.42 337.9,198.57 338.4,198.73 338.9,198.88 339.4,199.03 339.9,199.19 340.4,199.34 340.9,199.5 341.4,199.65 341.9,199.81 342.4,199.97 342.9,200.12 343.4,200.28 343.9,200.44 344.4,200.6 344.9,200.76 345.4,200.91 345.9,201.07 346.4,201.23 346.9,201.39 347.4,201.55 347.9,201.72 348.4,201.88 348.9,202.04 349.4,202.2" fill="none" stroke="#0a0a0a" stroke-width="1.0" stroke-linejoin="round" />
<circle cx="231.5" cy="154.5" r="2.1" fill="#0a0a0a"/>
<circle cx="232.5" cy="157" r="2.1" fill="#0a0a0a"/>
<circle cx="233.6" cy="159.5" r="2.1" fill="#0a0a0a"/>
<circle cx="234.6" cy="161.3" r="2.1" fill="#0a0a0a"/>
<circle cx="230" cy="160.5" r="2.1" fill="#0a0a0a"/>
<circle cx="229.6" cy="158" r="2.1" fill="#0a0a0a"/>
<circle cx="231.5" cy="160.5" r="2.1" fill="#0a0a0a"/>
<circle cx="229.6" cy="151" r="2.1" fill="#0a0a0a"/>
<circle cx="230" cy="153.5" r="2.1" fill="#0a0a0a"/>
<circle cx="230.5" cy="156" r="2.1" fill="#0a0a0a"/>
<circle cx="231" cy="158.5" r="2.1" fill="#0a0a0a"/>
<circle cx="231.7" cy="155.5" r="2.1" fill="#0a0a0a"/>
<circle cx="232.5" cy="159" r="2.1" fill="#0a0a0a"/>
<circle cx="233.5" cy="157.5" r="2.1" fill="#0a0a0a"/>
<circle cx="233.8" cy="161.5" r="2.1" fill="#0a0a0a"/>
<circle cx="237.5" cy="160.5" r="2.1" fill="#0a0a0a"/>
<circle cx="237.5" cy="164" r="2.1" fill="#0a0a0a"/>
<circle cx="241.5" cy="163" r="2.1" fill="#0a0a0a"/>
<circle cx="241.5" cy="167" r="2.1" fill="#0a0a0a"/>
<circle cx="246.2" cy="164.5" r="2.1" fill="#0a0a0a"/>
<circle cx="246.2" cy="168.5" r="2.1" fill="#0a0a0a"/>
<circle cx="263.2" cy="172" r="2.1" fill="#0a0a0a"/>
<circle cx="263.2" cy="175" r="2.1" fill="#0a0a0a"/>
<circle cx="263.2" cy="177.5" r="2.1" fill="#0a0a0a"/>
<circle cx="280.6" cy="177.6" r="2.1" fill="#0a0a0a"/>
<circle cx="280.6" cy="182.4" r="2.1" fill="#0a0a0a"/>
<circle cx="280.6" cy="190" r="2.1" fill="#0a0a0a"/>
<circle cx="297.6" cy="183.6" r="2.1" fill="#0a0a0a"/>
<circle cx="297.6" cy="187" r="2.1" fill="#0a0a0a"/>
<circle cx="297.6" cy="189.4" r="2.1" fill="#0a0a0a"/>
<circle cx="315" cy="190.6" r="2.1" fill="#0a0a0a"/>
<circle cx="315" cy="193" r="2.1" fill="#0a0a0a"/>
<circle cx="315" cy="195" r="2.1" fill="#0a0a0a"/>
<circle cx="332" cy="195" r="2.1" fill="#0a0a0a"/>
<circle cx="332" cy="197.2" r="2.1" fill="#0a0a0a"/>
<circle cx="332" cy="199" r="2.1" fill="#0a0a0a"/>
<circle cx="349.4" cy="202.2" r="2.1" fill="#0a0a0a"/>
<text x="365.3" y="136.7" font-size="10.3" text-anchor="start" fill="#000" font-weight="bold" stroke="#000" stroke-width="0.4" >F</text>
<line x1="399.4" y1="139" x2="399.4" y2="225.4" stroke="#1a1a1a" stroke-width="0.85" />
<line x1="399.4" y1="223.87" x2="396.7" y2="223.87" stroke="#1a1a1a" stroke-width="0.85" />
<line x1="399.4" y1="219.12" x2="396.7" y2="219.12" stroke="#1a1a1a" stroke-width="0.85" />
<line x1="399.4" y1="215.44" x2="396.7" y2="215.44" stroke="#1a1a1a" stroke-width="0.85" />
<line x1="399.4" y1="212.43" x2="396.7" y2="212.43" stroke="#1a1a1a" stroke-width="0.85" />
<line x1="399.4" y1="209.89" x2="396.7" y2="209.89" stroke="#1a1a1a" stroke-width="0.85" />
<line x1="399.4" y1="207.68" x2="396.7" y2="207.68" stroke="#1a1a1a" stroke-width="0.85" />
<line x1="399.4" y1="205.74" x2="396.7" y2="205.74" stroke="#1a1a1a" stroke-width="0.85" />
<line x1="399.4" y1="204" x2="394.4" y2="204" stroke="#1a1a1a" stroke-width="0.85" />
<line x1="399.4" y1="192.56" x2="396.7" y2="192.56" stroke="#1a1a1a" stroke-width="0.85" />
<line x1="399.4" y1="185.87" x2="396.7" y2="185.87" stroke="#1a1a1a" stroke-width="0.85" />
<line x1="399.4" y1="181.12" x2="396.7" y2="181.12" stroke="#1a1a1a" stroke-width="0.85" />
<line x1="399.4" y1="177.44" x2="396.7" y2="177.44" stroke="#1a1a1a" stroke-width="0.85" />
<line x1="399.4" y1="174.43" x2="396.7" y2="174.43" stroke="#1a1a1a" stroke-width="0.85" />
<line x1="399.4" y1="171.89" x2="396.7" y2="171.89" stroke="#1a1a1a" stroke-width="0.85" />
<line x1="399.4" y1="169.68" x2="396.7" y2="169.68" stroke="#1a1a1a" stroke-width="0.85" />
<line x1="399.4" y1="167.74" x2="396.7" y2="167.74" stroke="#1a1a1a" stroke-width="0.85" />
<line x1="399.4" y1="166" x2="394.4" y2="166" stroke="#1a1a1a" stroke-width="0.85" />
<line x1="399.4" y1="154.56" x2="396.7" y2="154.56" stroke="#1a1a1a" stroke-width="0.85" />
<line x1="399.4" y1="147.87" x2="396.7" y2="147.87" stroke="#1a1a1a" stroke-width="0.85" />
<line x1="399.4" y1="143.12" x2="396.7" y2="143.12" stroke="#1a1a1a" stroke-width="0.85" />
<line x1="399.4" y1="139.44" x2="396.7" y2="139.44" stroke="#1a1a1a" stroke-width="0.85" />
<text x="393.1" y="141.94" font-size="7" text-anchor="end" fill="#111" stroke="#111" stroke-width="0.25" >5</text>
<text x="393.1" y="168.5" font-size="7" text-anchor="end" fill="#111" stroke="#111" stroke-width="0.25" >1</text>
<text x="393.1" y="206.5" font-size="7" text-anchor="end" fill="#111" stroke="#111" stroke-width="0.25" >0.1</text>
<line x1="399.4" y1="139.44" x2="394.4" y2="139.44" stroke="#1a1a1a" stroke-width="0.85" />
<text x="379.6" y="181.5" font-size="8.7" text-anchor="middle" fill="#111" stroke="#111" stroke-width="0.25" transform="rotate(-90 379.6 181.5)" >FIX level (µg/ml)</text>
<line x1="399" y1="225.4" x2="520" y2="225.4" stroke="#1a1a1a" stroke-width="0.85" />
<line x1="399.4" y1="225.4" x2="399.4" y2="229.8" stroke="#1a1a1a" stroke-width="0.85" />
<text x="399.4" y="238.1" font-size="7" text-anchor="middle" fill="#111" stroke="#111" stroke-width="0.25" >0</text>
<line x1="403.69" y1="225.4" x2="403.69" y2="228" stroke="#1a1a1a" stroke-width="0.85" />
<line x1="407.97" y1="225.4" x2="407.97" y2="228" stroke="#1a1a1a" stroke-width="0.85" />
<line x1="412.26" y1="225.4" x2="412.26" y2="228" stroke="#1a1a1a" stroke-width="0.85" />
<line x1="416.54" y1="225.4" x2="416.54" y2="228" stroke="#1a1a1a" stroke-width="0.85" />
<line x1="420.83" y1="225.4" x2="420.83" y2="229.8" stroke="#1a1a1a" stroke-width="0.85" />
<text x="420.83" y="238.1" font-size="7" text-anchor="middle" fill="#111" stroke="#111" stroke-width="0.25" >5</text>
<line x1="425.11" y1="225.4" x2="425.11" y2="228" stroke="#1a1a1a" stroke-width="0.85" />
<line x1="429.4" y1="225.4" x2="429.4" y2="228" stroke="#1a1a1a" stroke-width="0.85" />
<line x1="433.69" y1="225.4" x2="433.69" y2="228" stroke="#1a1a1a" stroke-width="0.85" />
<line x1="437.97" y1="225.4" x2="437.97" y2="228" stroke="#1a1a1a" stroke-width="0.85" />
<line x1="442.26" y1="225.4" x2="442.26" y2="229.8" stroke="#1a1a1a" stroke-width="0.85" />
<text x="442.26" y="238.1" font-size="7" text-anchor="middle" fill="#111" stroke="#111" stroke-width="0.25" >10</text>
<line x1="446.54" y1="225.4" x2="446.54" y2="228" stroke="#1a1a1a" stroke-width="0.85" />
<line x1="450.83" y1="225.4" x2="450.83" y2="228" stroke="#1a1a1a" stroke-width="0.85" />
<line x1="455.11" y1="225.4" x2="455.11" y2="228" stroke="#1a1a1a" stroke-width="0.85" />
<line x1="459.4" y1="225.4" x2="459.4" y2="228" stroke="#1a1a1a" stroke-width="0.85" />
<line x1="463.69" y1="225.4" x2="463.69" y2="229.8" stroke="#1a1a1a" stroke-width="0.85" />
<text x="463.69" y="238.1" font-size="7" text-anchor="middle" fill="#111" stroke="#111" stroke-width="0.25" >15</text>
<line x1="467.97" y1="225.4" x2="467.97" y2="228" stroke="#1a1a1a" stroke-width="0.85" />
<line x1="472.26" y1="225.4" x2="472.26" y2="228" stroke="#1a1a1a" stroke-width="0.85" />
<line x1="476.54" y1="225.4" x2="476.54" y2="228" stroke="#1a1a1a" stroke-width="0.85" />
<line x1="480.83" y1="225.4" x2="480.83" y2="228" stroke="#1a1a1a" stroke-width="0.85" />
<line x1="485.11" y1="225.4" x2="485.11" y2="229.8" stroke="#1a1a1a" stroke-width="0.85" />
<text x="485.11" y="238.1" font-size="7" text-anchor="middle" fill="#111" stroke="#111" stroke-width="0.25" >20</text>
<line x1="489.4" y1="225.4" x2="489.4" y2="228" stroke="#1a1a1a" stroke-width="0.85" />
<line x1="493.69" y1="225.4" x2="493.69" y2="228" stroke="#1a1a1a" stroke-width="0.85" />
<line x1="497.97" y1="225.4" x2="497.97" y2="228" stroke="#1a1a1a" stroke-width="0.85" />
<line x1="502.26" y1="225.4" x2="502.26" y2="228" stroke="#1a1a1a" stroke-width="0.85" />
<line x1="506.54" y1="225.4" x2="506.54" y2="229.8" stroke="#1a1a1a" stroke-width="0.85" />
<text x="506.54" y="238.1" font-size="7" text-anchor="middle" fill="#111" stroke="#111" stroke-width="0.25" >25</text>
<line x1="510.83" y1="225.4" x2="510.83" y2="228" stroke="#1a1a1a" stroke-width="0.85" />
<line x1="515.11" y1="225.4" x2="515.11" y2="228" stroke="#1a1a1a" stroke-width="0.85" />
<line x1="519.4" y1="225.4" x2="519.4" y2="228" stroke="#1a1a1a" stroke-width="0.85" />
<text x="458.8" y="248.3" font-size="8.9" text-anchor="middle" fill="#111" stroke="#111" stroke-width="0.25" >Time (days)</text>
<line x1="399.4" y1="139.3" x2="520" y2="139.3" stroke="#9c9c9c" stroke-width="0.75" stroke-dasharray="2.4 1.4"/>
<line x1="399.4" y1="216.4" x2="520" y2="216.4" stroke="#9c9c9c" stroke-width="0.75" stroke-dasharray="2.4 1.4"/>
<text x="492" y="146.4" font-size="7.2" text-anchor="middle" fill="#999" stroke="#999" stroke-width="0.1" >100% level</text>
<line x1="433.2" y1="132" x2="444.2" y2="132" stroke="#0a0a0a" stroke-width="1.1" stroke-dasharray="3.7 0.9 1.8 0.9"/>
<text x="447" y="134.6" font-size="7.1" text-anchor="middle" fill="#111" stroke="#111" stroke-width="0.25" >/</text>
<line x1="450.2" y1="132" x2="461.2" y2="132" stroke="#0a0a0a" stroke-width="1.1" />
<text x="463.6" y="134.6" font-size="7.1" text-anchor="start" fill="#111" stroke="#111" stroke-width="0.25" >N9-GP</text>
<line x1="493.5" y1="132" x2="503.2" y2="132" stroke="#999" stroke-width="1.0" />
<text x="506.5" y="134.6" font-size="7.1" text-anchor="start" fill="#111" stroke="#111" stroke-width="0.25" >rFIX</text>
<polyline points="399.4,157 399.94,161.51 400.47,165.65 401.01,169.49 401.54,173.1 402.08,176.54 402.61,179.83 403.15,183.02 403.69,186.12 404.22,189.16 404.76,192.15 405.29,195.09 405.83,198.01 406.36,200.9 406.9,203.78 407.44,206.63 407.97,209.48 408.51,212.32 409.04,215.15 409.58,217.98 410.11,220.8 410.11,157 410.65,161.51 411.19,165.65 411.72,169.49 412.26,173.1 412.79,176.54 413.33,179.83 413.86,183.02 414.4,186.12 414.94,189.16 415.47,192.15 416.01,195.09 416.54,198.01 417.08,200.9 417.61,203.78 418.15,206.63 418.69,209.48 419.22,212.32 419.76,215.15 420.29,217.98 420.83,220.8 420.83,157 421.36,161.51 421.9,165.65 422.44,169.49 422.97,173.1 423.51,176.54 424.04,179.83 424.58,183.02 425.11,186.12 425.65,189.16 426.19,192.15 426.72,195.09 427.26,198.01 427.79,200.9 428.33,203.78 428.86,206.63 429.4,209.48 429.94,212.32 430.47,215.15 431.01,217.98 431.54,220.8 431.54,157 432.08,161.51 432.61,165.65 433.15,169.49 433.69,173.1 434.22,176.54 434.76,179.83 435.29,183.02 435.83,186.12 436.36,189.16 436.9,192.15 437.44,195.09 437.97,198.01 438.51,200.9 439.04,203.78 439.58,206.63 440.11,209.48 440.65,212.32 441.19,215.15 441.72,217.98 442.26,220.8 442.26,157 442.79,161.51 443.33,165.65 443.86,169.49 444.4,173.1 444.94,176.54 445.47,179.83 446.01,183.02 446.54,186.12 447.08,189.16 447.61,192.15 448.15,195.09 448.69,198.01 449.22,200.9 449.76,203.78 450.29,206.63 450.83,209.48 451.36,212.32 451.9,215.15 452.44,217.98 452.97,220.8 452.97,157 453.51,161.51 454.04,165.65 454.58,169.49 455.11,173.1 455.65,176.54 456.19,179.83 456.72,183.02 457.26,186.12 457.79,189.16 458.33,192.15 458.86,195.09 459.4,198.01 459.94,200.9 460.47,203.78 461.01,206.63 461.54,209.48 462.08,212.32 462.61,215.15 463.15,217.98 463.69,220.8 463.69,157 464.22,161.51 464.76,165.65 465.29,169.49 465.83,173.1 466.36,176.54 466.9,179.83 467.44,183.02 467.97,186.12 468.51,189.16 469.04,192.15 469.58,195.09 470.11,198.01 470.65,200.9 471.19,203.78 471.72,206.63 472.26,209.48 472.79,212.32 473.33,215.15 473.86,217.98 474.4,220.8 474.4,157 474.94,161.51 475.47,165.65 476.01,169.49 476.54,173.1 477.08,176.54 477.61,179.83 478.15,183.02 478.69,186.12 479.22,189.16 479.76,192.15 480.29,195.09 480.83,198.01 481.36,200.9 481.9,203.78 482.44,206.63 482.97,209.48 483.51,212.32 484.04,215.15 484.58,217.98 485.11,220.8 485.11,157 485.65,161.51 486.19,165.65 486.72,169.49 487.26,173.1 487.79,176.54 488.33,179.83 488.86,183.02 489.4,186.12 489.94,189.16 490.47,192.15 491.01,195.09 491.54,198.01 492.08,200.9 492.61,203.78 493.15,206.63 493.69,209.48 494.22,212.32 494.76,215.15 495.29,217.98 495.83,220.8 495.83,157 496.36,161.51 496.9,165.65 497.44,169.49 497.97,173.1 498.51,176.54 499.04,179.83 499.58,183.02 500.11,186.12 500.65,189.16 501.19,192.15 501.72,195.09 502.26,198.01 502.79,200.9 503.33,203.78 503.86,206.63 504.4,209.48 504.94,212.32 505.47,215.15 506.01,217.98 506.54,220.8 506.54,157 507.08,161.51 507.61,165.65 508.15,169.49 508.69,173.1 509.22,176.54 509.76,179.83 510.29,183.02 510.83,186.12 511.36,189.16 511.9,192.15 512.44,195.09 512.97,198.01 513.51,200.9 514.04,203.78 514.58,206.63 515.11,209.48 515.65,212.32 516.19,215.15 516.72,217.98 517.26,220.8 517.26,157 517.79,161.51 518.33,165.65 518.86,169.49 519.4,173.1 519.94,176.54 520.47,179.83" fill="none" stroke="#a8a8a8" stroke-width="0.8" stroke-linejoin="round" />
<polyline points="399.4,156.48 400.26,158.77 401.11,160.92 401.97,162.95 402.83,164.84 403.69,166.61 404.54,168.26 405.4,169.8 406.26,171.23 407.11,172.56 407.97,173.8 408.83,174.96 409.69,176.04 410.54,177.07 411.4,178.04 412.26,178.96 413.11,179.83 413.97,180.67 414.83,181.48 415.69,182.26 416.54,183.02 417.4,183.76 418.26,184.49 419.11,185.2 419.97,185.89 420.83,186.58 421.69,187.26 422.54,187.93 423.4,188.6 424.26,189.26 425.11,189.92 425.97,190.57 426.83,191.22 427.69,191.87 428.54,192.52 429.4,193.16 430.26,193.8 431.11,194.45 431.97,195.09 432.83,195.73 433.69,196.36 434.54,197 435.4,197.64 436.26,198.28 437.11,198.92 437.97,199.55 438.83,200.19 439.69,200.83 440.54,201.46 441.4,202.1 442.26,202.73 443.11,203.37 443.97,204.01 444.83,204.64 445.69,205.28 446.54,205.91 447.4,206.55 448.26,207.18 449.11,207.82 449.97,208.46 450.83,209.09 451.69,209.73 452.54,210.36 453.4,211 454.26,211.63 455.11,212.27 455.97,212.9 456.83,213.54 457.69,214.17 458.54,214.81 459.4,215.45 459.4,156.48 460.26,158.77 461.11,160.92 461.97,162.95 462.83,164.84 463.69,166.61 464.54,168.26 465.4,169.8 466.26,171.23 467.11,172.56 467.97,173.8 468.83,174.96 469.69,176.04 470.54,177.07 471.4,178.04 472.26,178.96 473.11,179.83 473.97,180.67 474.83,181.48 475.69,182.26 476.54,183.02 477.4,183.76 478.26,184.49 479.11,185.2 479.97,185.89 480.83,186.58 481.69,187.26 482.54,187.93 483.4,188.6 484.26,189.26 485.11,189.92 485.97,190.57 486.83,191.22 487.69,191.87 488.54,192.52 489.4,193.16 490.26,193.8 491.11,194.45 491.97,195.09 492.83,195.73 493.69,196.36 494.54,197 495.4,197.64 496.26,198.28 497.11,198.92 497.97,199.55 498.83,200.19 499.69,200.83 500.54,201.46 501.4,202.1 502.26,202.73 503.11,203.37 503.97,204.01 504.83,204.64 505.69,205.28 506.54,205.91 507.4,206.55 508.26,207.18 509.11,207.82 509.97,208.46 510.83,209.09 511.69,209.73 512.54,210.36 513.4,211 514.26,211.63 515.11,212.27 515.97,212.9 516.83,213.54 517.69,214.17 518.54,214.81 519.4,215.45" fill="none" stroke="#0a0a0a" stroke-width="0.9" stroke-linejoin="round" stroke-dasharray="3.7 0.9 1.8 0.9"/>
<polyline points="399.4,156.48 400.26,158.77 401.11,160.92 401.97,162.95 402.83,164.84 403.69,166.61 404.54,168.26 405.4,169.8 406.26,171.23 407.11,172.56 407.97,173.8 408.83,174.96 409.69,176.04 410.54,177.07 411.4,178.04 412.26,178.96 413.11,179.83 413.97,180.67 414.83,181.48 415.69,182.26 416.54,183.02 417.4,183.76 418.26,184.49 419.11,185.2 419.97,185.89 420.83,186.58 421.69,187.26 422.54,187.93 423.4,188.6 424.26,189.26 425.11,189.92 425.97,190.57 426.83,191.22 427.69,191.87 428.54,192.52 429.4,193.16 429.4,154.79 430.26,156.9 431.11,158.89 431.97,160.75 432.83,162.48 433.69,164.09 434.54,165.6 435.4,167 436.26,168.3 437.11,169.51 437.97,170.65 438.83,171.72 439.69,172.73 440.54,173.68 441.4,174.58 442.26,175.45 443.11,176.28 443.97,177.08 444.83,177.86 445.69,178.61 446.54,179.34 447.4,180.06 448.26,180.77 449.11,181.46 449.97,182.15 450.83,182.82 451.69,183.49 452.54,184.16 453.4,184.82 454.26,185.48 455.11,186.13 455.97,186.78 456.83,187.43 457.69,188.07 458.54,188.72 459.4,189.36 459.4,154.37 460.26,156.45 461.11,158.4 461.97,160.22 462.83,161.92 463.69,163.5 464.54,164.97 465.4,166.34 466.26,167.62 467.11,168.81 467.97,169.92 468.83,170.97 469.69,171.96 470.54,172.9 471.4,173.79 472.26,174.65 473.11,175.47 473.97,176.26 474.83,177.03 475.69,177.78 476.54,178.51 477.4,179.22 478.26,179.92 479.11,180.62 479.97,181.3 480.83,181.97 481.69,182.64 482.54,183.31 483.4,183.96 484.26,184.62 485.11,185.27 485.97,185.92 486.83,186.57 487.69,187.21 488.54,187.86 489.4,188.5 489.4,154.27 490.26,156.34 491.11,158.27 491.97,160.09 492.83,161.77 493.69,163.35 494.54,164.81 495.4,166.17 496.26,167.44 497.11,168.63 497.97,169.74 498.83,170.78 499.69,171.77 500.54,172.7 501.4,173.59 502.26,174.45 503.11,175.27 503.97,176.06 504.83,176.82 505.69,177.57 506.54,178.3 507.4,179.01 508.26,179.71 509.11,180.4 509.97,181.09 510.83,181.76 511.69,182.43 512.54,183.09 513.4,183.75 514.26,184.4 515.11,185.06 515.97,185.7 516.83,186.35 517.69,187 518.54,187.64 519.4,188.28 519.4,154.24 520.26,156.31" fill="none" stroke="#0a0a0a" stroke-width="0.95" stroke-linejoin="round" />
</svg>
</body></html>
